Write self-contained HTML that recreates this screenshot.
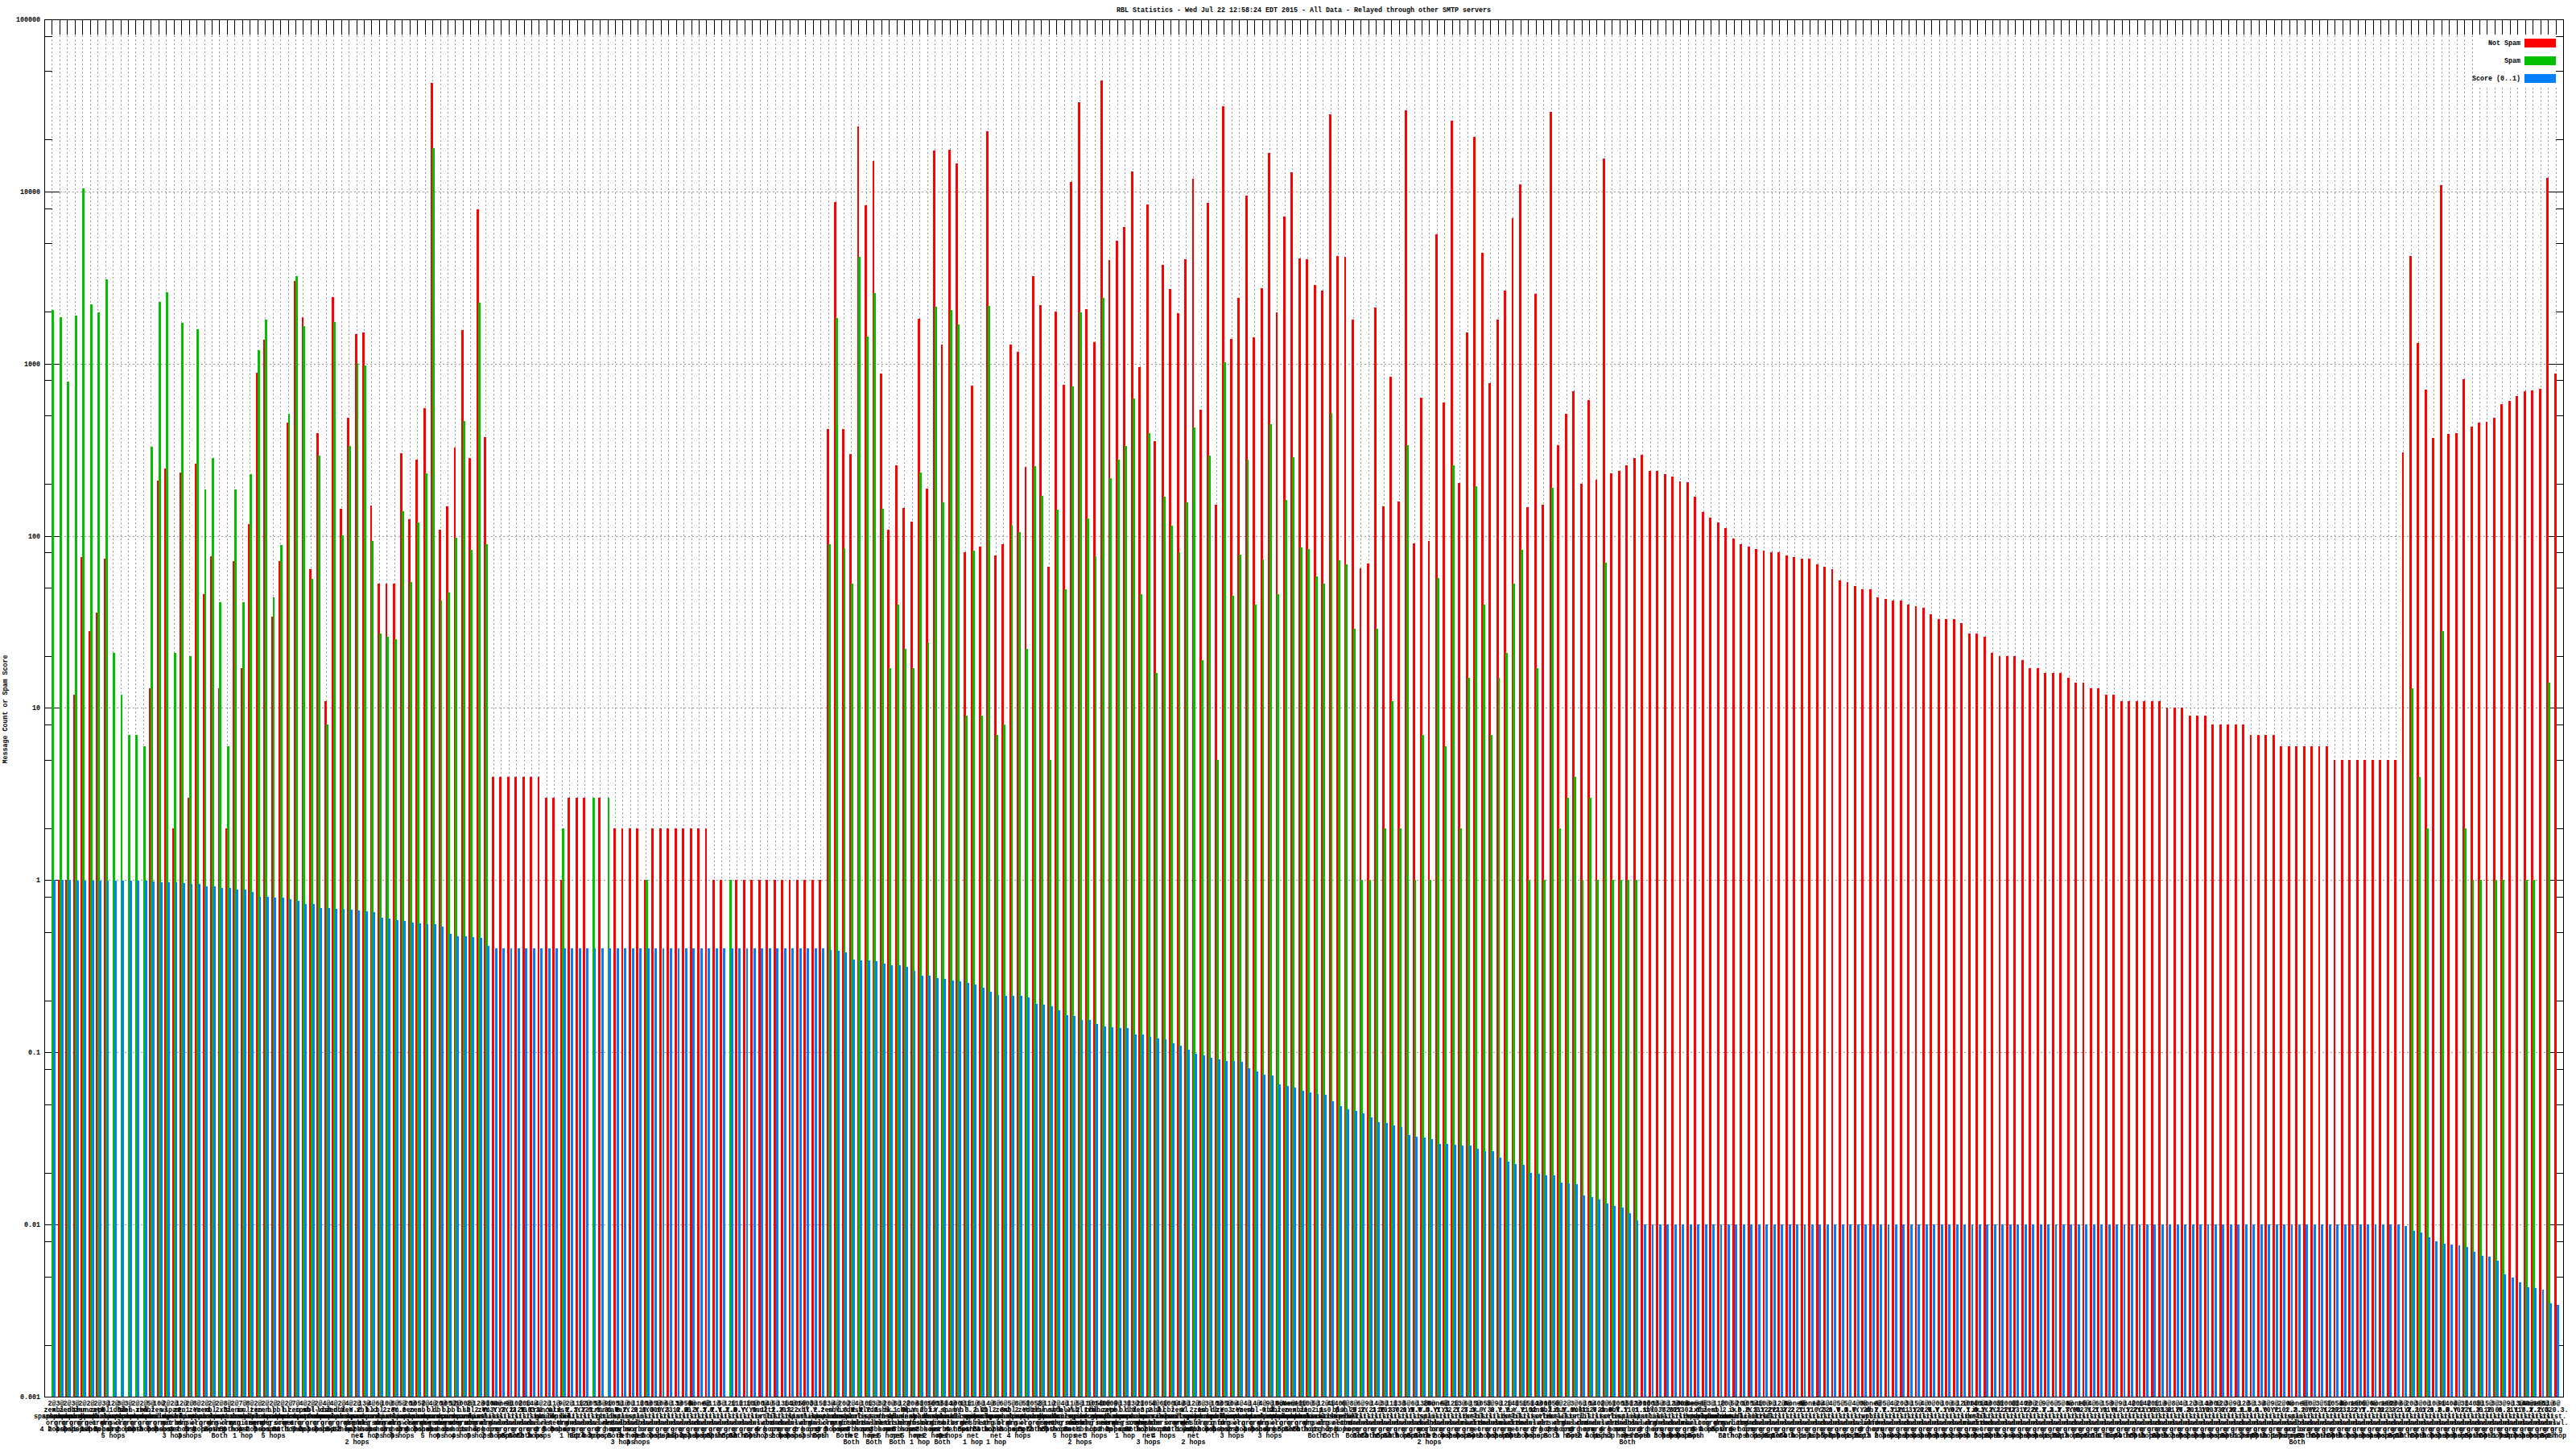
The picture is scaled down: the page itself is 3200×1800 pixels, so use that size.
<!DOCTYPE html><html><head><meta charset="utf-8"><title>RBL Statistics</title>
<style>html,body{margin:0;padding:0;background:#fff}body{width:3200px;height:1800px;overflow:hidden}svg{display:block}text{font-family:"Liberation Mono","DejaVu Sans Mono",monospace;font-size:8.333px;fill:#000}</style></head><body>
<svg width="3200" height="1800" viewBox="0 0 3200 1800" shape-rendering="crispEdges">
<rect width="3200" height="1800" fill="#fff"/>
<path d="M64.5 44V1735M74.5 44V1735M83.5 44V1735M93.5 44V1735M102.5 44V1735M112.5 44V1735M121.5 44V1735M131.5 44V1735M140.5 44V1735M150.5 44V1735M159.5 44V1735M168.5 44V1735M178.5 44V1735M187.5 44V1735M197.5 44V1735M206.5 44V1735M216.5 44V1735M225.5 44V1735M235.5 44V1735M244.5 44V1735M254.5 44V1735M263.5 44V1735M272.5 44V1735M282.5 44V1735M291.5 44V1735M301.5 44V1735M310.5 44V1735M320.5 44V1735M329.5 44V1735M339.5 44V1735M348.5 44V1735M358.5 44V1735M367.5 44V1735M376.5 44V1735M386.5 44V1735M395.5 44V1735M405.5 44V1735M414.5 44V1735M424.5 44V1735M433.5 44V1735M443.5 44V1735M452.5 44V1735M461.5 44V1735M471.5 44V1735M480.5 44V1735M490.5 44V1735M499.5 44V1735M509.5 44V1735M518.5 44V1735M528.5 44V1735M537.5 44V1735M547.5 44V1735M556.5 44V1735M565.5 44V1735M575.5 44V1735M584.5 44V1735M594.5 44V1735M603.5 44V1735M613.5 44V1735M622.5 44V1735M632.5 44V1735M641.5 44V1735M651.5 44V1735M660.5 44V1735M669.5 44V1735M679.5 44V1735M688.5 44V1735M698.5 44V1735M707.5 44V1735M717.5 44V1735M726.5 44V1735M736.5 44V1735M745.5 44V1735M755.5 44V1735M764.5 44V1735M773.5 44V1735M783.5 44V1735M792.5 44V1735M802.5 44V1735M811.5 44V1735M821.5 44V1735M830.5 44V1735M840.5 44V1735M849.5 44V1735M859.5 44V1735M868.5 44V1735M877.5 44V1735M887.5 44V1735M896.5 44V1735M906.5 44V1735M915.5 44V1735M925.5 44V1735M934.5 44V1735M944.5 44V1735M953.5 44V1735M963.5 44V1735M972.5 44V1735M981.5 44V1735M991.5 44V1735M1000.5 44V1735M1010.5 44V1735M1019.5 44V1735M1029.5 44V1735M1038.5 44V1735M1048.5 44V1735M1057.5 44V1735M1066.5 44V1735M1076.5 44V1735M1085.5 44V1735M1095.5 44V1735M1104.5 44V1735M1114.5 44V1735M1123.5 44V1735M1133.5 44V1735M1142.5 44V1735M1152.5 44V1735M1161.5 44V1735M1170.5 44V1735M1180.5 44V1735M1189.5 44V1735M1199.5 44V1735M1208.5 44V1735M1218.5 44V1735M1227.5 44V1735M1237.5 44V1735M1246.5 44V1735M1256.5 44V1735M1265.5 44V1735M1274.5 44V1735M1284.5 44V1735M1293.5 44V1735M1303.5 44V1735M1312.5 44V1735M1322.5 44V1735M1331.5 44V1735M1341.5 44V1735M1350.5 44V1735M1360.5 44V1735M1369.5 44V1735M1378.5 44V1735M1388.5 44V1735M1397.5 44V1735M1407.5 44V1735M1416.5 44V1735M1426.5 44V1735M1435.5 44V1735M1445.5 44V1735M1454.5 44V1735M1464.5 44V1735M1473.5 44V1735M1482.5 44V1735M1492.5 44V1735M1501.5 44V1735M1511.5 44V1735M1520.5 44V1735M1530.5 44V1735M1539.5 44V1735M1549.5 44V1735M1558.5 44V1735M1568.5 44V1735M1577.5 44V1735M1586.5 44V1735M1596.5 44V1735M1605.5 44V1735M1615.5 44V1735M1624.5 44V1735M1634.5 44V1735M1643.5 44V1735M1653.5 44V1735M1662.5 44V1735M1671.5 44V1735M1681.5 44V1735M1690.5 44V1735M1700.5 44V1735M1709.5 44V1735M1719.5 44V1735M1728.5 44V1735M1738.5 44V1735M1747.5 44V1735M1757.5 44V1735M1766.5 44V1735M1775.5 44V1735M1785.5 44V1735M1794.5 44V1735M1804.5 44V1735M1813.5 44V1735M1823.5 44V1735M1832.5 44V1735M1842.5 44V1735M1851.5 44V1735M1861.5 44V1735M1870.5 44V1735M1879.5 44V1735M1889.5 44V1735M1898.5 44V1735M1908.5 44V1735M1917.5 44V1735M1927.5 44V1735M1936.5 44V1735M1946.5 44V1735M1955.5 44V1735M1965.5 44V1735M1974.5 44V1735M1983.5 44V1735M1993.5 44V1735M2002.5 44V1735M2012.5 44V1735M2021.5 44V1735M2031.5 44V1735M2040.5 44V1735M2050.5 44V1735M2059.5 44V1735M2069.5 44V1735M2078.5 44V1735M2087.5 44V1735M2097.5 44V1735M2106.5 44V1735M2116.5 44V1735M2125.5 44V1735M2135.5 44V1735M2144.5 44V1735M2154.5 44V1735M2163.5 44V1735M2173.5 44V1735M2182.5 44V1735M2191.5 44V1735M2201.5 44V1735M2210.5 44V1735M2220.5 44V1735M2229.5 44V1735M2239.5 44V1735M2248.5 44V1735M2258.5 44V1735M2267.5 44V1735M2276.5 44V1735M2286.5 44V1735M2295.5 44V1735M2305.5 44V1735M2314.5 44V1735M2324.5 44V1735M2333.5 44V1735M2343.5 44V1735M2352.5 44V1735M2362.5 44V1735M2371.5 44V1735M2380.5 44V1735M2390.5 44V1735M2399.5 44V1735M2409.5 44V1735M2418.5 44V1735M2428.5 44V1735M2437.5 44V1735M2447.5 44V1735M2456.5 44V1735M2466.5 44V1735M2475.5 44V1735M2484.5 44V1735M2494.5 44V1735M2503.5 44V1735M2513.5 44V1735M2522.5 44V1735M2532.5 44V1735M2541.5 44V1735M2551.5 44V1735M2560.5 44V1735M2570.5 44V1735M2579.5 44V1735M2588.5 44V1735M2598.5 44V1735M2607.5 44V1735M2617.5 44V1735M2626.5 44V1735M2636.5 44V1735M2645.5 44V1735M2655.5 44V1735M2664.5 44V1735M2674.5 44V1735M2683.5 44V1735M2692.5 44V1735M2702.5 44V1735M2711.5 44V1735M2721.5 44V1735M2730.5 44V1735M2740.5 44V1735M2749.5 44V1735M2759.5 44V1735M2768.5 44V1735M2778.5 44V1735M2787.5 44V1735M2796.5 44V1735M2806.5 44V1735M2815.5 44V1735M2825.5 44V1735M2834.5 44V1735M2844.5 44V1735M2853.5 44V1735M2863.5 44V1735M2872.5 44V1735M2881.5 44V1735M2891.5 44V1735M2900.5 44V1735M2910.5 44V1735M2919.5 44V1735M2929.5 44V1735M2938.5 44V1735M2948.5 44V1735M2957.5 44V1735M2967.5 44V1735M2976.5 44V1735M2985.5 44V1735M2995.5 44V1735M3004.5 44V1735M3014.5 44V1735M3023.5 44V1735M3033.5 44V1735M3042.5 44V1735M3052.5 44V1735M3061.5 44V1735M3071.5 44V1735M3080.5 44V1735M3089.5 44V1735M3099.5 44V1735M3108.5 44V1735M3118.5 44V1735M3127.5 44V1735M3137.5 44V1735M3146.5 44V1735M3156.5 44V1735M3165.5 44V1735M3175.5 44V1735" stroke="#999" stroke-width="1" stroke-dasharray="2 3" fill="none"/>
<path d="M75 1521.5H3166M75 1307.5H3166M75 1093.5H3166M75 879.5H3166M75 666.5H3166M75 452.5H3166M75 238.5H3166" stroke="#999" stroke-width="1" stroke-dasharray="2 3" fill="none"/>
<rect x="3075" y="43" width="109" height="64" fill="#fff"/>
<path d="M64.5 24V43M64.5 1717V1735M74.5 24V43M74.5 1717V1735M83.5 24V43M83.5 1717V1735M93.5 24V43M93.5 1717V1735M102.5 24V43M102.5 1717V1735M112.5 24V43M112.5 1717V1735M121.5 24V43M121.5 1717V1735M131.5 24V43M131.5 1717V1735M140.5 24V43M140.5 1717V1735M150.5 24V43M150.5 1717V1735M159.5 24V43M159.5 1717V1735M168.5 24V43M168.5 1717V1735M178.5 24V43M178.5 1717V1735M187.5 24V43M187.5 1717V1735M197.5 24V43M197.5 1717V1735M206.5 24V43M206.5 1717V1735M216.5 24V43M216.5 1717V1735M225.5 24V43M225.5 1717V1735M235.5 24V43M235.5 1717V1735M244.5 24V43M244.5 1717V1735M254.5 24V43M254.5 1717V1735M263.5 24V43M263.5 1717V1735M272.5 24V43M272.5 1717V1735M282.5 24V43M282.5 1717V1735M291.5 24V43M291.5 1717V1735M301.5 24V43M301.5 1717V1735M310.5 24V43M310.5 1717V1735M320.5 24V43M320.5 1717V1735M329.5 24V43M329.5 1717V1735M339.5 24V43M339.5 1717V1735M348.5 24V43M348.5 1717V1735M358.5 24V43M358.5 1717V1735M367.5 24V43M367.5 1717V1735M376.5 24V43M376.5 1717V1735M386.5 24V43M386.5 1717V1735M395.5 24V43M395.5 1717V1735M405.5 24V43M405.5 1717V1735M414.5 24V43M414.5 1717V1735M424.5 24V43M424.5 1717V1735M433.5 24V43M433.5 1717V1735M443.5 24V43M443.5 1717V1735M452.5 24V43M452.5 1717V1735M461.5 24V43M461.5 1717V1735M471.5 24V43M471.5 1717V1735M480.5 24V43M480.5 1717V1735M490.5 24V43M490.5 1717V1735M499.5 24V43M499.5 1717V1735M509.5 24V43M509.5 1717V1735M518.5 24V43M518.5 1717V1735M528.5 24V43M528.5 1717V1735M537.5 24V43M537.5 1717V1735M547.5 24V43M547.5 1717V1735M556.5 24V43M556.5 1717V1735M565.5 24V43M565.5 1717V1735M575.5 24V43M575.5 1717V1735M584.5 24V43M584.5 1717V1735M594.5 24V43M594.5 1717V1735M603.5 24V43M603.5 1717V1735M613.5 24V43M613.5 1717V1735M622.5 24V43M622.5 1717V1735M632.5 24V43M632.5 1717V1735M641.5 24V43M641.5 1717V1735M651.5 24V43M651.5 1717V1735M660.5 24V43M660.5 1717V1735M669.5 24V43M669.5 1717V1735M679.5 24V43M679.5 1717V1735M688.5 24V43M688.5 1717V1735M698.5 24V43M698.5 1717V1735M707.5 24V43M707.5 1717V1735M717.5 24V43M717.5 1717V1735M726.5 24V43M726.5 1717V1735M736.5 24V43M736.5 1717V1735M745.5 24V43M745.5 1717V1735M755.5 24V43M755.5 1717V1735M764.5 24V43M764.5 1717V1735M773.5 24V43M773.5 1717V1735M783.5 24V43M783.5 1717V1735M792.5 24V43M792.5 1717V1735M802.5 24V43M802.5 1717V1735M811.5 24V43M811.5 1717V1735M821.5 24V43M821.5 1717V1735M830.5 24V43M830.5 1717V1735M840.5 24V43M840.5 1717V1735M849.5 24V43M849.5 1717V1735M859.5 24V43M859.5 1717V1735M868.5 24V43M868.5 1717V1735M877.5 24V43M877.5 1717V1735M887.5 24V43M887.5 1717V1735M896.5 24V43M896.5 1717V1735M906.5 24V43M906.5 1717V1735M915.5 24V43M915.5 1717V1735M925.5 24V43M925.5 1717V1735M934.5 24V43M934.5 1717V1735M944.5 24V43M944.5 1717V1735M953.5 24V43M953.5 1717V1735M963.5 24V43M963.5 1717V1735M972.5 24V43M972.5 1717V1735M981.5 24V43M981.5 1717V1735M991.5 24V43M991.5 1717V1735M1000.5 24V43M1000.5 1717V1735M1010.5 24V43M1010.5 1717V1735M1019.5 24V43M1019.5 1717V1735M1029.5 24V43M1029.5 1717V1735M1038.5 24V43M1038.5 1717V1735M1048.5 24V43M1048.5 1717V1735M1057.5 24V43M1057.5 1717V1735M1066.5 24V43M1066.5 1717V1735M1076.5 24V43M1076.5 1717V1735M1085.5 24V43M1085.5 1717V1735M1095.5 24V43M1095.5 1717V1735M1104.5 24V43M1104.5 1717V1735M1114.5 24V43M1114.5 1717V1735M1123.5 24V43M1123.5 1717V1735M1133.5 24V43M1133.5 1717V1735M1142.5 24V43M1142.5 1717V1735M1152.5 24V43M1152.5 1717V1735M1161.5 24V43M1161.5 1717V1735M1170.5 24V43M1170.5 1717V1735M1180.5 24V43M1180.5 1717V1735M1189.5 24V43M1189.5 1717V1735M1199.5 24V43M1199.5 1717V1735M1208.5 24V43M1208.5 1717V1735M1218.5 24V43M1218.5 1717V1735M1227.5 24V43M1227.5 1717V1735M1237.5 24V43M1237.5 1717V1735M1246.5 24V43M1246.5 1717V1735M1256.5 24V43M1256.5 1717V1735M1265.5 24V43M1265.5 1717V1735M1274.5 24V43M1274.5 1717V1735M1284.5 24V43M1284.5 1717V1735M1293.5 24V43M1293.5 1717V1735M1303.5 24V43M1303.5 1717V1735M1312.5 24V43M1312.5 1717V1735M1322.5 24V43M1322.5 1717V1735M1331.5 24V43M1331.5 1717V1735M1341.5 24V43M1341.5 1717V1735M1350.5 24V43M1350.5 1717V1735M1360.5 24V43M1360.5 1717V1735M1369.5 24V43M1369.5 1717V1735M1378.5 24V43M1378.5 1717V1735M1388.5 24V43M1388.5 1717V1735M1397.5 24V43M1397.5 1717V1735M1407.5 24V43M1407.5 1717V1735M1416.5 24V43M1416.5 1717V1735M1426.5 24V43M1426.5 1717V1735M1435.5 24V43M1435.5 1717V1735M1445.5 24V43M1445.5 1717V1735M1454.5 24V43M1454.5 1717V1735M1464.5 24V43M1464.5 1717V1735M1473.5 24V43M1473.5 1717V1735M1482.5 24V43M1482.5 1717V1735M1492.5 24V43M1492.5 1717V1735M1501.5 24V43M1501.5 1717V1735M1511.5 24V43M1511.5 1717V1735M1520.5 24V43M1520.5 1717V1735M1530.5 24V43M1530.5 1717V1735M1539.5 24V43M1539.5 1717V1735M1549.5 24V43M1549.5 1717V1735M1558.5 24V43M1558.5 1717V1735M1568.5 24V43M1568.5 1717V1735M1577.5 24V43M1577.5 1717V1735M1586.5 24V43M1586.5 1717V1735M1596.5 24V43M1596.5 1717V1735M1605.5 24V43M1605.5 1717V1735M1615.5 24V43M1615.5 1717V1735M1624.5 24V43M1624.5 1717V1735M1634.5 24V43M1634.5 1717V1735M1643.5 24V43M1643.5 1717V1735M1653.5 24V43M1653.5 1717V1735M1662.5 24V43M1662.5 1717V1735M1671.5 24V43M1671.5 1717V1735M1681.5 24V43M1681.5 1717V1735M1690.5 24V43M1690.5 1717V1735M1700.5 24V43M1700.5 1717V1735M1709.5 24V43M1709.5 1717V1735M1719.5 24V43M1719.5 1717V1735M1728.5 24V43M1728.5 1717V1735M1738.5 24V43M1738.5 1717V1735M1747.5 24V43M1747.5 1717V1735M1757.5 24V43M1757.5 1717V1735M1766.5 24V43M1766.5 1717V1735M1775.5 24V43M1775.5 1717V1735M1785.5 24V43M1785.5 1717V1735M1794.5 24V43M1794.5 1717V1735M1804.5 24V43M1804.5 1717V1735M1813.5 24V43M1813.5 1717V1735M1823.5 24V43M1823.5 1717V1735M1832.5 24V43M1832.5 1717V1735M1842.5 24V43M1842.5 1717V1735M1851.5 24V43M1851.5 1717V1735M1861.5 24V43M1861.5 1717V1735M1870.5 24V43M1870.5 1717V1735M1879.5 24V43M1879.5 1717V1735M1889.5 24V43M1889.5 1717V1735M1898.5 24V43M1898.5 1717V1735M1908.5 24V43M1908.5 1717V1735M1917.5 24V43M1917.5 1717V1735M1927.5 24V43M1927.5 1717V1735M1936.5 24V43M1936.5 1717V1735M1946.5 24V43M1946.5 1717V1735M1955.5 24V43M1955.5 1717V1735M1965.5 24V43M1965.5 1717V1735M1974.5 24V43M1974.5 1717V1735M1983.5 24V43M1983.5 1717V1735M1993.5 24V43M1993.5 1717V1735M2002.5 24V43M2002.5 1717V1735M2012.5 24V43M2012.5 1717V1735M2021.5 24V43M2021.5 1717V1735M2031.5 24V43M2031.5 1717V1735M2040.5 24V43M2040.5 1717V1735M2050.5 24V43M2050.5 1717V1735M2059.5 24V43M2059.5 1717V1735M2069.5 24V43M2069.5 1717V1735M2078.5 24V43M2078.5 1717V1735M2087.5 24V43M2087.5 1717V1735M2097.5 24V43M2097.5 1717V1735M2106.5 24V43M2106.5 1717V1735M2116.5 24V43M2116.5 1717V1735M2125.5 24V43M2125.5 1717V1735M2135.5 24V43M2135.5 1717V1735M2144.5 24V43M2144.5 1717V1735M2154.5 24V43M2154.5 1717V1735M2163.5 24V43M2163.5 1717V1735M2173.5 24V43M2173.5 1717V1735M2182.5 24V43M2182.5 1717V1735M2191.5 24V43M2191.5 1717V1735M2201.5 24V43M2201.5 1717V1735M2210.5 24V43M2210.5 1717V1735M2220.5 24V43M2220.5 1717V1735M2229.5 24V43M2229.5 1717V1735M2239.5 24V43M2239.5 1717V1735M2248.5 24V43M2248.5 1717V1735M2258.5 24V43M2258.5 1717V1735M2267.5 24V43M2267.5 1717V1735M2276.5 24V43M2276.5 1717V1735M2286.5 24V43M2286.5 1717V1735M2295.5 24V43M2295.5 1717V1735M2305.5 24V43M2305.5 1717V1735M2314.5 24V43M2314.5 1717V1735M2324.5 24V43M2324.5 1717V1735M2333.5 24V43M2333.5 1717V1735M2343.5 24V43M2343.5 1717V1735M2352.5 24V43M2352.5 1717V1735M2362.5 24V43M2362.5 1717V1735M2371.5 24V43M2371.5 1717V1735M2380.5 24V43M2380.5 1717V1735M2390.5 24V43M2390.5 1717V1735M2399.5 24V43M2399.5 1717V1735M2409.5 24V43M2409.5 1717V1735M2418.5 24V43M2418.5 1717V1735M2428.5 24V43M2428.5 1717V1735M2437.5 24V43M2437.5 1717V1735M2447.5 24V43M2447.5 1717V1735M2456.5 24V43M2456.5 1717V1735M2466.5 24V43M2466.5 1717V1735M2475.5 24V43M2475.5 1717V1735M2484.5 24V43M2484.5 1717V1735M2494.5 24V43M2494.5 1717V1735M2503.5 24V43M2503.5 1717V1735M2513.5 24V43M2513.5 1717V1735M2522.5 24V43M2522.5 1717V1735M2532.5 24V43M2532.5 1717V1735M2541.5 24V43M2541.5 1717V1735M2551.5 24V43M2551.5 1717V1735M2560.5 24V43M2560.5 1717V1735M2570.5 24V43M2570.5 1717V1735M2579.5 24V43M2579.5 1717V1735M2588.5 24V43M2588.5 1717V1735M2598.5 24V43M2598.5 1717V1735M2607.5 24V43M2607.5 1717V1735M2617.5 24V43M2617.5 1717V1735M2626.5 24V43M2626.5 1717V1735M2636.5 24V43M2636.5 1717V1735M2645.5 24V43M2645.5 1717V1735M2655.5 24V43M2655.5 1717V1735M2664.5 24V43M2664.5 1717V1735M2674.5 24V43M2674.5 1717V1735M2683.5 24V43M2683.5 1717V1735M2692.5 24V43M2692.5 1717V1735M2702.5 24V43M2702.5 1717V1735M2711.5 24V43M2711.5 1717V1735M2721.5 24V43M2721.5 1717V1735M2730.5 24V43M2730.5 1717V1735M2740.5 24V43M2740.5 1717V1735M2749.5 24V43M2749.5 1717V1735M2759.5 24V43M2759.5 1717V1735M2768.5 24V43M2768.5 1717V1735M2778.5 24V43M2778.5 1717V1735M2787.5 24V43M2787.5 1717V1735M2796.5 24V43M2796.5 1717V1735M2806.5 24V43M2806.5 1717V1735M2815.5 24V43M2815.5 1717V1735M2825.5 24V43M2825.5 1717V1735M2834.5 24V43M2834.5 1717V1735M2844.5 24V43M2844.5 1717V1735M2853.5 24V43M2853.5 1717V1735M2863.5 24V43M2863.5 1717V1735M2872.5 24V43M2872.5 1717V1735M2881.5 24V43M2881.5 1717V1735M2891.5 24V43M2891.5 1717V1735M2900.5 24V43M2900.5 1717V1735M2910.5 24V43M2910.5 1717V1735M2919.5 24V43M2919.5 1717V1735M2929.5 24V43M2929.5 1717V1735M2938.5 24V43M2938.5 1717V1735M2948.5 24V43M2948.5 1717V1735M2957.5 24V43M2957.5 1717V1735M2967.5 24V43M2967.5 1717V1735M2976.5 24V43M2976.5 1717V1735M2985.5 24V43M2985.5 1717V1735M2995.5 24V43M2995.5 1717V1735M3004.5 24V43M3004.5 1717V1735M3014.5 24V43M3014.5 1717V1735M3023.5 24V43M3023.5 1717V1735M3033.5 24V43M3033.5 1717V1735M3042.5 24V43M3042.5 1717V1735M3052.5 24V43M3052.5 1717V1735M3061.5 24V43M3061.5 1717V1735M3071.5 24V43M3071.5 1717V1735M3080.5 24V43M3080.5 1717V1735M3089.5 24V43M3089.5 1717V1735M3099.5 24V43M3099.5 1717V1735M3108.5 24V43M3108.5 1717V1735M3118.5 24V43M3118.5 1717V1735M3127.5 24V43M3127.5 1717V1735M3137.5 24V43M3137.5 1717V1735M3146.5 24V43M3146.5 1717V1735M3156.5 24V43M3156.5 1717V1735M3165.5 24V43M3165.5 1717V1735M3175.5 24V43M3175.5 1717V1735" stroke="#000" stroke-width="1" fill="none"/>
<path d="M55 1735.5H74M3166 1735.5H3185M55 1671.5H65M3175 1671.5H3185M55 1586.5H65M3175 1586.5H3185M55 1542.5H65M3175 1542.5H3185M55 1521.5H74M3166 1521.5H3185M55 1457.5H65M3175 1457.5H3185M55 1372.5H65M3175 1372.5H3185M55 1328.5H65M3175 1328.5H3185M55 1307.5H74M3166 1307.5H3185M55 1243.5H65M3175 1243.5H3185M55 1158.5H65M3175 1158.5H3185M55 1114.5H65M3175 1114.5H3185M55 1093.5H74M3166 1093.5H3185M55 1029.5H65M3175 1029.5H3185M55 944.5H65M3175 944.5H3185M55 900.5H65M3175 900.5H3185M55 879.5H74M3166 879.5H3185M55 815.5H65M3175 815.5H3185M55 730.5H65M3175 730.5H3185M55 686.5H65M3175 686.5H3185M55 666.5H74M3166 666.5H3185M55 601.5H65M3175 601.5H3185M55 516.5H65M3175 516.5H3185M55 472.5H65M3175 472.5H3185M55 452.5H74M3166 452.5H3185M55 387.5H65M3175 387.5H3185M55 302.5H65M3175 302.5H3185M55 259.5H65M3175 259.5H3185M55 238.5H74M3166 238.5H3185M55 173.5H65M3175 173.5H3185M55 88.5H65M3175 88.5H3185M55 45.5H65M3175 45.5H3185M55 24.5H74M3166 24.5H3185" stroke="#000" stroke-width="1" fill="none"/>
<path d="M72 1093h3V1735h-3zM81 1093h3V1735h-3zM91 863h3V1735h-3zM100 692h3V1735h-3zM110 784h3V1735h-3zM119 761h3V1735h-3zM129 694h3V1735h-3zM185 855h3V1735h-3zM195 597h3V1735h-3zM204 582h3V1735h-3zM214 1029h3V1735h-3zM223 587h3V1735h-3zM233 991h3V1735h-3zM242 576h3V1735h-3zM252 738h3V1735h-3zM261 691h3V1735h-3zM271 855h2V1735h-2zM280 1029h3V1735h-3zM289 697h3V1735h-3zM299 830h3V1735h-3zM308 651h3V1735h-3zM318 463h3V1735h-3zM327 422h3V1735h-3zM337 766h3V1735h-3zM346 697h3V1735h-3zM356 525h3V1735h-3zM365 349h3V1735h-3zM375 394h2V1735h-2zM384 707h3V1735h-3zM393 538h3V1735h-3zM403 871h3V1735h-3zM412 369h3V1735h-3zM422 632h3V1735h-3zM431 519h3V1735h-3zM441 415h3V1735h-3zM450 413h3V1735h-3zM460 628h2V1735h-2zM469 725h3V1735h-3zM479 725h2V1735h-2zM488 725h3V1735h-3zM497 563h3V1735h-3zM507 645h3V1735h-3zM516 571h3V1735h-3zM526 507h3V1735h-3zM535 103h3V1735h-3zM545 658h3V1735h-3zM554 629h3V1735h-3zM564 556h2V1735h-2zM573 410h3V1735h-3zM582 569h3V1735h-3zM592 260h3V1735h-3zM601 543h3V1735h-3zM611 965h3V1735h-3zM620 965h3V1735h-3zM630 965h3V1735h-3zM639 965h3V1735h-3zM649 965h3V1735h-3zM658 965h3V1735h-3zM668 965h2V1735h-2zM677 991h3V1735h-3zM686 991h3V1735h-3zM696 1093h3V1735h-3zM705 991h3V1735h-3zM715 991h3V1735h-3zM724 991h3V1735h-3zM743 991h3V1735h-3zM762 1029h3V1735h-3zM772 1029h2V1735h-2zM781 1029h3V1735h-3zM790 1029h3V1735h-3zM800 1093h3V1735h-3zM809 1029h3V1735h-3zM819 1029h3V1735h-3zM828 1029h3V1735h-3zM838 1029h3V1735h-3zM847 1029h3V1735h-3zM857 1029h3V1735h-3zM866 1029h3V1735h-3zM876 1029h2V1735h-2zM885 1093h3V1735h-3zM894 1093h3V1735h-3zM913 1093h3V1735h-3zM923 1093h3V1735h-3zM932 1093h3V1735h-3zM942 1093h3V1735h-3zM951 1093h3V1735h-3zM961 1093h3V1735h-3zM970 1093h3V1735h-3zM980 1093h2V1735h-2zM989 1093h3V1735h-3zM998 1093h3V1735h-3zM1008 1093h3V1735h-3zM1017 1093h3V1735h-3zM1027 533h3V1735h-3zM1036 251h3V1735h-3zM1046 533h3V1735h-3zM1055 564h3V1735h-3zM1065 157h2V1735h-2zM1074 255h3V1735h-3zM1084 200h2V1735h-2zM1093 464h3V1735h-3zM1102 658h3V1735h-3zM1112 578h3V1735h-3zM1121 631h3V1735h-3zM1131 648h3V1735h-3zM1140 396h3V1735h-3zM1150 607h3V1735h-3zM1159 187h3V1735h-3zM1169 428h2V1735h-2zM1178 186h3V1735h-3zM1187 203h3V1735h-3zM1197 686h3V1735h-3zM1206 479h3V1735h-3zM1216 679h3V1735h-3zM1225 163h3V1735h-3zM1235 690h3V1735h-3zM1244 676h3V1735h-3zM1254 428h3V1735h-3zM1263 437h3V1735h-3zM1273 580h2V1735h-2zM1282 343h3V1735h-3zM1291 379h3V1735h-3zM1301 704h3V1735h-3zM1310 387h3V1735h-3zM1320 478h3V1735h-3zM1329 226h3V1735h-3zM1339 127h3V1735h-3zM1348 384h3V1735h-3zM1358 425h3V1735h-3zM1367 100h3V1735h-3zM1377 323h2V1735h-2zM1386 299h3V1735h-3zM1395 282h3V1735h-3zM1405 213h3V1735h-3zM1414 456h3V1735h-3zM1424 254h3V1735h-3zM1433 548h3V1735h-3zM1443 329h3V1735h-3zM1452 359h3V1735h-3zM1462 389h3V1735h-3zM1471 322h3V1735h-3zM1481 222h2V1735h-2zM1490 509h3V1735h-3zM1499 252h3V1735h-3zM1509 627h3V1735h-3zM1518 132h3V1735h-3zM1528 421h3V1735h-3zM1537 370h3V1735h-3zM1547 243h3V1735h-3zM1556 419h3V1735h-3zM1566 358h3V1735h-3zM1575 190h3V1735h-3zM1585 388h2V1735h-2zM1594 269h3V1735h-3zM1603 214h3V1735h-3zM1613 321h3V1735h-3zM1622 322h3V1735h-3zM1632 354h3V1735h-3zM1641 361h3V1735h-3zM1651 142h3V1735h-3zM1660 318h3V1735h-3zM1670 319h2V1735h-2zM1679 397h3V1735h-3zM1689 706h2V1735h-2zM1698 700h3V1735h-3zM1707 382h3V1735h-3zM1717 629h3V1735h-3zM1726 468h3V1735h-3zM1736 623h3V1735h-3zM1745 137h3V1735h-3zM1755 675h3V1735h-3zM1764 494h3V1735h-3zM1774 672h2V1735h-2zM1783 291h3V1735h-3zM1792 500h3V1735h-3zM1802 150h3V1735h-3zM1811 600h3V1735h-3zM1821 413h3V1735h-3zM1830 170h3V1735h-3zM1840 314h3V1735h-3zM1849 476h3V1735h-3zM1859 397h3V1735h-3zM1868 361h3V1735h-3zM1878 271h2V1735h-2zM1887 229h3V1735h-3zM1896 630h3V1735h-3zM1906 365h3V1735h-3zM1915 627h3V1735h-3zM1925 139h3V1735h-3zM1934 553h3V1735h-3zM1944 514h3V1735h-3zM1953 486h3V1735h-3zM1963 601h3V1735h-3zM1972 497h3V1735h-3zM1982 596h2V1735h-2zM1991 197h3V1735h-3zM2000 588h3V1735h-3zM2010 585h3V1735h-3zM2019 578h3V1735h-3zM2029 569h3V1735h-3zM2038 565h3V1735h-3zM2048 585h3V1735h-3zM2057 585h3V1735h-3zM2067 589h3V1735h-3zM2076 592h3V1735h-3zM2086 598h2V1735h-2zM2095 599h3V1735h-3zM2104 617h3V1735h-3zM2114 636h3V1735h-3zM2123 643h3V1735h-3zM2133 649h3V1735h-3zM2142 656h3V1735h-3zM2152 669h3V1735h-3zM2161 676h3V1735h-3zM2171 679h3V1735h-3zM2180 682h3V1735h-3zM2190 684h2V1735h-2zM2199 686h3V1735h-3zM2208 686h3V1735h-3zM2218 690h3V1735h-3zM2227 692h3V1735h-3zM2237 694h3V1735h-3zM2246 694h3V1735h-3zM2256 701h3V1735h-3zM2265 704h3V1735h-3zM2275 707h2V1735h-2zM2284 721h3V1735h-3zM2294 723h2V1735h-2zM2303 728h3V1735h-3zM2312 732h3V1735h-3zM2322 732h3V1735h-3zM2331 742h3V1735h-3zM2341 744h3V1735h-3zM2350 746h3V1735h-3zM2360 746h3V1735h-3zM2369 751h3V1735h-3zM2379 753h2V1735h-2zM2388 755h3V1735h-3zM2397 763h3V1735h-3zM2407 769h3V1735h-3zM2416 769h3V1735h-3zM2426 769h3V1735h-3zM2435 774h3V1735h-3zM2445 787h3V1735h-3zM2454 787h3V1735h-3zM2464 791h3V1735h-3zM2473 811h3V1735h-3zM2483 815h2V1735h-2zM2492 815h3V1735h-3zM2501 815h3V1735h-3zM2511 820h3V1735h-3zM2520 830h3V1735h-3zM2530 830h3V1735h-3zM2539 836h3V1735h-3zM2549 836h3V1735h-3zM2558 836h3V1735h-3zM2568 842h3V1735h-3zM2577 848h3V1735h-3zM2587 848h2V1735h-2zM2596 855h3V1735h-3zM2605 855h3V1735h-3zM2615 863h3V1735h-3zM2624 863h3V1735h-3zM2634 871h3V1735h-3zM2643 871h3V1735h-3zM2653 871h3V1735h-3zM2662 871h3V1735h-3zM2672 871h3V1735h-3zM2681 871h3V1735h-3zM2691 879h2V1735h-2zM2700 879h3V1735h-3zM2709 879h3V1735h-3zM2719 889h3V1735h-3zM2728 889h3V1735h-3zM2738 889h3V1735h-3zM2747 900h3V1735h-3zM2757 900h3V1735h-3zM2766 900h3V1735h-3zM2776 900h3V1735h-3zM2785 900h3V1735h-3zM2795 913h2V1735h-2zM2804 913h3V1735h-3zM2813 913h3V1735h-3zM2823 913h3V1735h-3zM2832 927h3V1735h-3zM2842 927h3V1735h-3zM2851 927h3V1735h-3zM2861 927h3V1735h-3zM2870 927h3V1735h-3zM2880 927h2V1735h-2zM2889 927h3V1735h-3zM2899 944h2V1735h-2zM2908 944h3V1735h-3zM2917 944h3V1735h-3zM2927 944h3V1735h-3zM2936 944h3V1735h-3zM2946 944h3V1735h-3zM2955 944h3V1735h-3zM2965 944h3V1735h-3zM2974 944h3V1735h-3zM2984 562h2V1735h-2zM2993 318h3V1735h-3zM3002 426h3V1735h-3zM3012 484h3V1735h-3zM3021 544h3V1735h-3zM3031 230h3V1735h-3zM3040 539h3V1735h-3zM3050 538h3V1735h-3zM3059 471h3V1735h-3zM3069 530h3V1735h-3zM3078 525h3V1735h-3zM3088 524h2V1735h-2zM3097 519h3V1735h-3zM3106 502h3V1735h-3zM3116 498h3V1735h-3zM3125 492h3V1735h-3zM3135 486h3V1735h-3zM3144 485h3V1735h-3zM3154 483h3V1735h-3zM3163 221h3V1735h-3zM3173 464h3V1735h-3z" fill="#ff0000"/>
<path d="M64 385h3V1735h-3zM74 394h3V1735h-3zM83 474h3V1735h-3zM93 392h3V1735h-3zM102 234h3V1735h-3zM112 378h3V1735h-3zM121 388h3V1735h-3zM131 347h3V1735h-3zM140 811h3V1735h-3zM150 863h2V1735h-2zM159 913h3V1735h-3zM168 913h3V1735h-3zM178 927h3V1735h-3zM187 555h3V1735h-3zM197 375h3V1735h-3zM206 363h3V1735h-3zM216 811h3V1735h-3zM225 401h3V1735h-3zM235 815h3V1735h-3zM244 409h3V1735h-3zM254 608h2V1735h-2zM263 569h3V1735h-3zM272 748h3V1735h-3zM282 927h3V1735h-3zM291 608h3V1735h-3zM301 748h3V1735h-3zM310 589h3V1735h-3zM320 435h3V1735h-3zM329 397h3V1735h-3zM339 742h2V1735h-2zM348 677h3V1735h-3zM358 514h2V1735h-2zM367 343h3V1735h-3zM376 405h3V1735h-3zM386 719h3V1735h-3zM395 566h3V1735h-3zM405 900h3V1735h-3zM414 400h3V1735h-3zM424 665h3V1735h-3zM433 554h3V1735h-3zM443 451h2V1735h-2zM452 454h3V1735h-3zM461 672h3V1735h-3zM471 787h3V1735h-3zM480 791h3V1735h-3zM490 794h3V1735h-3zM499 635h3V1735h-3zM509 723h3V1735h-3zM518 649h3V1735h-3zM528 588h3V1735h-3zM537 184h3V1735h-3zM547 746h2V1735h-2zM556 736h3V1735h-3zM565 668h3V1735h-3zM575 523h3V1735h-3zM584 683h3V1735h-3zM594 376h3V1735h-3zM603 676h3V1735h-3zM698 1029h3V1735h-3zM736 991h3V1735h-3zM755 991h2V1735h-2zM802 1093h3V1735h-3zM906 1093h3V1735h-3zM1029 676h3V1735h-3zM1038 395h3V1735h-3zM1048 681h2V1735h-2zM1057 725h3V1735h-3zM1066 319h3V1735h-3zM1076 418h3V1735h-3zM1085 364h3V1735h-3zM1095 632h3V1735h-3zM1104 830h3V1735h-3zM1114 751h3V1735h-3zM1123 806h3V1735h-3zM1133 830h3V1735h-3zM1142 587h3V1735h-3zM1152 798h2V1735h-2zM1161 381h3V1735h-3zM1170 624h3V1735h-3zM1180 385h3V1735h-3zM1189 403h3V1735h-3zM1199 889h3V1735h-3zM1208 684h3V1735h-3zM1218 889h3V1735h-3zM1227 380h3V1735h-3zM1237 913h3V1735h-3zM1246 900h3V1735h-3zM1256 652h2V1735h-2zM1265 661h3V1735h-3zM1274 806h3V1735h-3zM1284 579h3V1735h-3zM1293 616h3V1735h-3zM1303 944h3V1735h-3zM1312 633h3V1735h-3zM1322 732h3V1735h-3zM1331 480h3V1735h-3zM1341 388h3V1735h-3zM1350 644h3V1735h-3zM1360 691h2V1735h-2zM1369 370h3V1735h-3zM1378 594h3V1735h-3zM1388 571h3V1735h-3zM1397 554h3V1735h-3zM1407 495h3V1735h-3zM1416 738h3V1735h-3zM1426 538h3V1735h-3zM1435 836h3V1735h-3zM1445 617h3V1735h-3zM1454 653h3V1735h-3zM1464 686h2V1735h-2zM1473 624h3V1735h-3zM1482 531h3V1735h-3zM1492 820h3V1735h-3zM1501 566h3V1735h-3zM1511 944h3V1735h-3zM1520 450h3V1735h-3zM1530 740h3V1735h-3zM1539 689h3V1735h-3zM1549 571h2V1735h-2zM1558 751h3V1735h-3zM1568 695h2V1735h-2zM1577 527h3V1735h-3zM1586 738h3V1735h-3zM1596 621h3V1735h-3zM1605 568h3V1735h-3zM1615 680h3V1735h-3zM1624 682h3V1735h-3zM1634 716h3V1735h-3zM1643 725h3V1735h-3zM1653 513h2V1735h-2zM1662 696h3V1735h-3zM1671 701h3V1735h-3zM1681 781h3V1735h-3zM1690 1093h3V1735h-3zM1700 1093h3V1735h-3zM1709 781h3V1735h-3zM1719 1029h3V1735h-3zM1728 871h3V1735h-3zM1738 1029h3V1735h-3zM1747 553h3V1735h-3zM1757 1093h2V1735h-2zM1766 913h3V1735h-3zM1775 1093h3V1735h-3zM1785 718h3V1735h-3zM1794 927h3V1735h-3zM1804 578h3V1735h-3zM1813 1029h3V1735h-3zM1823 842h3V1735h-3zM1832 604h3V1735h-3zM1842 751h3V1735h-3zM1851 913h3V1735h-3zM1861 842h2V1735h-2zM1870 811h3V1735h-3zM1879 725h3V1735h-3zM1889 683h3V1735h-3zM1898 1093h3V1735h-3zM1908 830h3V1735h-3zM1917 1093h3V1735h-3zM1927 606h3V1735h-3zM1936 1029h3V1735h-3zM1946 991h3V1735h-3zM1955 965h3V1735h-3zM1965 1093h2V1735h-2zM1974 991h3V1735h-3zM1983 1093h3V1735h-3zM1993 699h3V1735h-3zM2002 1093h3V1735h-3zM2012 1093h3V1735h-3zM2021 1093h3V1735h-3zM2031 1093h3V1735h-3zM2995 855h3V1735h-3zM3004 965h3V1735h-3zM3014 1029h3V1735h-3zM3033 784h3V1735h-3zM3061 1029h3V1735h-3zM3071 1093h2V1735h-2zM3080 1093h3V1735h-3zM3099 1093h3V1735h-3zM3108 1093h3V1735h-3zM3137 1093h3V1735h-3zM3146 1093h3V1735h-3zM3165 848h3V1735h-3z" fill="#00c000"/>
<path d="M66 1093h3V1735h-3zM76 1093h3V1735h-3zM85 1093h3V1735h-3zM95 1094h3V1735h-3zM104 1094h3V1735h-3zM114 1094h3V1735h-3zM123 1094h3V1735h-3zM133 1094h2V1735h-2zM142 1094h3V1735h-3zM151 1094h3V1735h-3zM161 1094h3V1735h-3zM170 1094h3V1735h-3zM180 1094h3V1735h-3zM189 1095h3V1735h-3zM199 1096h3V1735h-3zM208 1096h3V1735h-3zM218 1096h2V1735h-2zM227 1097h3V1735h-3zM237 1098h2V1735h-2zM246 1098h3V1735h-3zM255 1101h3V1735h-3zM265 1101h3V1735h-3zM274 1103h3V1735h-3zM284 1103h3V1735h-3zM293 1105h3V1735h-3zM303 1105h3V1735h-3zM312 1108h3V1735h-3zM322 1114h2V1735h-2zM331 1114h3V1735h-3zM340 1115h3V1735h-3zM350 1115h3V1735h-3zM359 1117h3V1735h-3zM369 1119h3V1735h-3zM378 1123h3V1735h-3zM388 1123h3V1735h-3zM397 1128h3V1735h-3zM407 1128h3V1735h-3zM416 1129h3V1735h-3zM426 1129h2V1735h-2zM435 1130h3V1735h-3zM444 1131h3V1735h-3zM454 1132h3V1735h-3zM463 1133h3V1735h-3zM473 1140h3V1735h-3zM482 1141h3V1735h-3zM492 1143h3V1735h-3zM501 1144h3V1735h-3zM511 1146h3V1735h-3zM520 1147h3V1735h-3zM530 1148h2V1735h-2zM539 1148h3V1735h-3zM548 1151h3V1735h-3zM558 1160h3V1735h-3zM567 1163h3V1735h-3zM577 1163h3V1735h-3zM586 1164h3V1735h-3zM596 1165h3V1735h-3zM605 1175h3V1735h-3zM615 1178h3V1735h-3zM624 1178h3V1735h-3zM634 1178h2V1735h-2zM643 1178h3V1735h-3zM652 1178h3V1735h-3zM662 1178h3V1735h-3zM671 1178h3V1735h-3zM681 1178h3V1735h-3zM690 1178h3V1735h-3zM700 1178h3V1735h-3zM709 1178h3V1735h-3zM719 1178h3V1735h-3zM728 1178h3V1735h-3zM738 1178h2V1735h-2zM747 1178h3V1735h-3zM756 1178h3V1735h-3zM766 1178h3V1735h-3zM775 1178h3V1735h-3zM785 1178h3V1735h-3zM794 1178h3V1735h-3zM804 1178h3V1735h-3zM813 1178h3V1735h-3zM823 1178h2V1735h-2zM832 1178h3V1735h-3zM842 1178h2V1735h-2zM851 1178h3V1735h-3zM860 1178h3V1735h-3zM870 1178h3V1735h-3zM879 1178h3V1735h-3zM889 1178h3V1735h-3zM898 1178h3V1735h-3zM908 1178h3V1735h-3zM917 1178h3V1735h-3zM927 1178h2V1735h-2zM936 1178h3V1735h-3zM945 1178h3V1735h-3zM955 1178h3V1735h-3zM964 1178h3V1735h-3zM974 1178h3V1735h-3zM983 1178h3V1735h-3zM993 1178h3V1735h-3zM1002 1178h3V1735h-3zM1012 1178h3V1735h-3zM1021 1178h3V1735h-3zM1031 1180h2V1735h-2zM1040 1181h3V1735h-3zM1049 1183h3V1735h-3zM1059 1192h3V1735h-3zM1068 1193h3V1735h-3zM1078 1193h3V1735h-3zM1087 1194h3V1735h-3zM1097 1197h3V1735h-3zM1106 1199h3V1735h-3zM1116 1199h3V1735h-3zM1125 1201h3V1735h-3zM1135 1206h2V1735h-2zM1144 1212h3V1735h-3zM1153 1212h3V1735h-3zM1163 1215h3V1735h-3zM1172 1216h3V1735h-3zM1182 1218h3V1735h-3zM1191 1219h3V1735h-3zM1201 1221h3V1735h-3zM1210 1223h3V1735h-3zM1220 1227h3V1735h-3zM1229 1232h3V1735h-3zM1239 1236h2V1735h-2zM1248 1237h3V1735h-3zM1257 1237h3V1735h-3zM1267 1237h3V1735h-3zM1276 1239h3V1735h-3zM1286 1247h3V1735h-3zM1295 1248h3V1735h-3zM1305 1250h3V1735h-3zM1314 1255h3V1735h-3zM1324 1261h3V1735h-3zM1333 1262h3V1735h-3zM1343 1267h2V1735h-2zM1352 1267h3V1735h-3zM1361 1272h3V1735h-3zM1371 1275h3V1735h-3zM1380 1276h3V1735h-3zM1390 1277h3V1735h-3zM1399 1277h3V1735h-3zM1409 1285h3V1735h-3zM1418 1285h3V1735h-3zM1428 1288h2V1735h-2zM1437 1290h3V1735h-3zM1447 1291h2V1735h-2zM1456 1296h3V1735h-3zM1465 1299h3V1735h-3zM1475 1304h3V1735h-3zM1484 1309h3V1735h-3zM1494 1311h3V1735h-3zM1503 1314h3V1735h-3zM1513 1316h3V1735h-3zM1522 1318h3V1735h-3zM1532 1318h2V1735h-2zM1541 1319h3V1735h-3zM1550 1327h3V1735h-3zM1560 1331h3V1735h-3zM1569 1335h3V1735h-3zM1579 1336h3V1735h-3zM1588 1347h3V1735h-3zM1598 1349h3V1735h-3zM1607 1351h3V1735h-3zM1617 1355h3V1735h-3zM1626 1357h3V1735h-3zM1636 1359h2V1735h-2zM1645 1360h3V1735h-3zM1654 1368h3V1735h-3zM1664 1374h3V1735h-3zM1673 1378h3V1735h-3zM1683 1380h3V1735h-3zM1692 1383h3V1735h-3zM1702 1388h3V1735h-3zM1711 1394h3V1735h-3zM1721 1395h3V1735h-3zM1730 1398h3V1735h-3zM1740 1400h2V1735h-2zM1749 1410h3V1735h-3zM1758 1412h3V1735h-3zM1768 1413h3V1735h-3zM1777 1415h3V1735h-3zM1787 1421h3V1735h-3zM1796 1421h3V1735h-3zM1806 1422h3V1735h-3zM1815 1423h3V1735h-3zM1825 1423h3V1735h-3zM1834 1427h3V1735h-3zM1844 1430h2V1735h-2zM1853 1430h3V1735h-3zM1862 1438h3V1735h-3zM1872 1443h3V1735h-3zM1881 1446h3V1735h-3zM1891 1447h3V1735h-3zM1900 1457h3V1735h-3zM1910 1458h3V1735h-3zM1919 1460h3V1735h-3zM1929 1460h3V1735h-3zM1938 1469h3V1735h-3zM1948 1470h2V1735h-2zM1957 1471h3V1735h-3zM1966 1485h3V1735h-3zM1976 1487h3V1735h-3zM1985 1490h3V1735h-3zM1995 1495h3V1735h-3zM2004 1498h3V1735h-3zM2014 1500h3V1735h-3zM2023 1507h3V1735h-3zM2033 1516h2V1735h-2zM2042 1521h3V1735h-3zM2052 1521h2V1735h-2zM2061 1521h3V1735h-3zM2070 1521h3V1735h-3zM2080 1521h3V1735h-3zM2089 1521h3V1735h-3zM2099 1521h3V1735h-3zM2108 1521h3V1735h-3zM2118 1521h3V1735h-3zM2127 1521h3V1735h-3zM2137 1521h2V1735h-2zM2146 1521h3V1735h-3zM2155 1521h3V1735h-3zM2165 1521h3V1735h-3zM2174 1521h3V1735h-3zM2184 1521h3V1735h-3zM2193 1521h3V1735h-3zM2203 1521h3V1735h-3zM2212 1521h3V1735h-3zM2222 1521h3V1735h-3zM2231 1521h3V1735h-3zM2241 1521h2V1735h-2zM2250 1521h3V1735h-3zM2259 1521h3V1735h-3zM2269 1521h3V1735h-3zM2278 1521h3V1735h-3zM2288 1521h3V1735h-3zM2297 1521h3V1735h-3zM2307 1521h3V1735h-3zM2316 1521h3V1735h-3zM2326 1521h3V1735h-3zM2335 1521h3V1735h-3zM2345 1521h2V1735h-2zM2354 1521h3V1735h-3zM2363 1521h3V1735h-3zM2373 1521h3V1735h-3zM2382 1521h3V1735h-3zM2392 1521h3V1735h-3zM2401 1521h3V1735h-3zM2411 1521h3V1735h-3zM2420 1521h3V1735h-3zM2430 1521h3V1735h-3zM2439 1521h3V1735h-3zM2449 1521h2V1735h-2zM2458 1521h3V1735h-3zM2467 1521h3V1735h-3zM2477 1521h3V1735h-3zM2486 1521h3V1735h-3zM2496 1521h3V1735h-3zM2505 1521h3V1735h-3zM2515 1521h3V1735h-3zM2524 1521h3V1735h-3zM2534 1521h3V1735h-3zM2543 1521h3V1735h-3zM2553 1521h2V1735h-2zM2562 1521h3V1735h-3zM2571 1521h3V1735h-3zM2581 1521h3V1735h-3zM2590 1521h3V1735h-3zM2600 1521h3V1735h-3zM2609 1521h3V1735h-3zM2619 1521h3V1735h-3zM2628 1521h3V1735h-3zM2638 1521h2V1735h-2zM2647 1521h3V1735h-3zM2657 1521h2V1735h-2zM2666 1521h3V1735h-3zM2675 1521h3V1735h-3zM2685 1521h3V1735h-3zM2694 1521h3V1735h-3zM2704 1521h3V1735h-3zM2713 1521h3V1735h-3zM2723 1521h3V1735h-3zM2732 1521h3V1735h-3zM2742 1521h2V1735h-2zM2751 1521h3V1735h-3zM2760 1521h3V1735h-3zM2770 1521h3V1735h-3zM2779 1521h3V1735h-3zM2789 1521h3V1735h-3zM2798 1521h3V1735h-3zM2808 1521h3V1735h-3zM2817 1521h3V1735h-3zM2827 1521h3V1735h-3zM2836 1521h3V1735h-3zM2846 1521h2V1735h-2zM2855 1521h3V1735h-3zM2864 1521h3V1735h-3zM2874 1521h3V1735h-3zM2883 1521h3V1735h-3zM2893 1521h3V1735h-3zM2902 1521h3V1735h-3zM2912 1521h3V1735h-3zM2921 1521h3V1735h-3zM2931 1521h3V1735h-3zM2940 1521h3V1735h-3zM2950 1521h2V1735h-2zM2959 1521h3V1735h-3zM2968 1521h3V1735h-3zM2978 1521h3V1735h-3zM2987 1523h3V1735h-3zM2997 1529h3V1735h-3zM3006 1531h3V1735h-3zM3016 1537h3V1735h-3zM3025 1542h3V1735h-3zM3035 1545h3V1735h-3zM3044 1546h3V1735h-3zM3054 1547h2V1735h-2zM3063 1549h3V1735h-3zM3072 1555h3V1735h-3zM3082 1560h3V1735h-3zM3091 1561h3V1735h-3zM3101 1566h3V1735h-3zM3110 1583h3V1735h-3zM3120 1587h3V1735h-3zM3129 1593h3V1735h-3zM3139 1599h3V1735h-3zM3148 1600h3V1735h-3zM3158 1602h2V1735h-2zM3167 1619h3V1735h-3zM3176 1621h3V1735h-3z" fill="#0080ff"/>
<path d="M55.5 24.5H3184.5V1735.5H55.5z" stroke="#000" stroke-width="1" fill="none"/>
<rect x="3136" y="48" width="39" height="11" fill="#ff0000"/><rect x="3136" y="70" width="39" height="11" fill="#00c000"/><rect x="3136" y="92" width="39" height="11" fill="#0080ff"/>
<g transform="scale(1.00000,1)" shape-rendering="auto" font-weight="bold">
<text x="3131.0" y="56" text-anchor="end">Not Spam</text>
<text x="3131.0" y="78" text-anchor="end">Spam</text>
<text x="3131.0" y="100" text-anchor="end">Score (0..1)</text>
<text x="1619.5" y="15" text-anchor="middle">RBL Statistics - Wed Jul 22 12:58:24 EDT 2015 - All Data - Relayed through other SMTP servers</text>
<text x="50.0" y="1738" text-anchor="end">0.001</text>
<text x="50.0" y="1524" text-anchor="end">0.01</text>
<text x="50.0" y="1310" text-anchor="end">0.1</text>
<text x="50.0" y="1096" text-anchor="end">1</text>
<text x="50.0" y="882" text-anchor="end">10</text>
<text x="50.0" y="669" text-anchor="end">100</text>
<text x="50.0" y="455" text-anchor="end">1000</text>
<text x="50.0" y="241" text-anchor="end">10000</text>
<text x="50.0" y="27" text-anchor="end">100000</text>
</g>
<g transform="translate(9,881) rotate(-90) scale(1.00000,1)" shape-rendering="auto" font-weight="bold"><text x="0" y="0" text-anchor="middle">Message Count or Spam Score</text></g>
<g transform="scale(1.00000,1)" shape-rendering="auto" font-weight="bold" text-anchor="middle">
<text x="64.5" y="1746"><tspan>2@</tspan><tspan x="64.5" dy="8">zen.</tspan><tspan x="64.5" dy="8">spamhaus.</tspan><tspan x="64.5" dy="8">org</tspan><tspan x="64.5" dy="8">4 hops</tspan></text>
<text x="74.5" y="1746"><tspan>3@</tspan><tspan x="74.5" dy="8">xbl.</tspan><tspan x="74.5" dy="8">spamhaus.</tspan><tspan x="74.5" dy="8">org</tspan><tspan x="74.5" dy="8">2 hops</tspan></text>
<text x="83.5" y="1746"><tspan>2@</tspan><tspan x="83.5" dy="8">zen.</tspan><tspan x="83.5" dy="8">spamhaus.</tspan><tspan x="83.5" dy="8">org</tspan><tspan x="83.5" dy="8">4 hops</tspan></text>
<text x="93.5" y="1746"><tspan>3@</tspan><tspan x="93.5" dy="8">dbl.</tspan><tspan x="93.5" dy="8">spamhaus.</tspan><tspan x="93.5" dy="8">org</tspan><tspan x="93.5" dy="8">2 hops</tspan></text>
<text x="102.5" y="1746"><tspan>2@</tspan><tspan x="102.5" dy="8">zen.</tspan><tspan x="102.5" dy="8">spamhaus.</tspan><tspan x="102.5" dy="8">org</tspan><tspan x="102.5" dy="8">1 hop</tspan></text>
<text x="112.5" y="1746"><tspan>2@</tspan><tspan x="112.5" dy="8">truncate.</tspan><tspan x="112.5" dy="8">gbudb.</tspan><tspan x="112.5" dy="8">net</tspan><tspan x="112.5" dy="8">1 hop</tspan></text>
<text x="121.5" y="1746"><tspan>2@</tspan><tspan x="121.5" dy="8">zen.</tspan><tspan x="121.5" dy="8">spamhaus.</tspan><tspan x="121.5" dy="8">org</tspan><tspan x="121.5" dy="8">4 hops</tspan></text>
<text x="131.5" y="1746"><tspan>3@</tspan><tspan x="131.5" dy="8">pbl.</tspan><tspan x="131.5" dy="8">spamhaus.</tspan><tspan x="131.5" dy="8">org</tspan><tspan x="131.5" dy="8">5 hops</tspan></text>
<text x="140.5" y="1746"><tspan>12@</tspan><tspan x="140.5" dy="8">Y.1.0.</tspan><tspan x="140.5" dy="8">list.</tspan><tspan x="140.5" dy="8">dnswl.</tspan><tspan x="140.5" dy="8">org</tspan><tspan x="140.5" dy="8">5 hops</tspan></text>
<text x="150.5" y="1746"><tspan>3@</tspan><tspan x="150.5" dy="8">dbl.</tspan><tspan x="150.5" dy="8">spamhaus.</tspan><tspan x="150.5" dy="8">org</tspan><tspan x="150.5" dy="8">2 hops</tspan></text>
<text x="159.5" y="1746"><tspan>3@</tspan><tspan x="159.5" dy="8">zen.</tspan><tspan x="159.5" dy="8">spamhaus.</tspan><tspan x="159.5" dy="8">org</tspan><tspan x="159.5" dy="8">2 hops</tspan></text>
<text x="168.5" y="1746"><tspan>2@</tspan><tspan x="168.5" dy="8">sbl-xbl.</tspan><tspan x="168.5" dy="8">spamhaus.</tspan><tspan x="168.5" dy="8">org</tspan><tspan x="168.5" dy="8">Both</tspan></text>
<text x="178.5" y="1746"><tspan>2@</tspan><tspan x="178.5" dy="8">zen.</tspan><tspan x="178.5" dy="8">spamhaus.</tspan><tspan x="178.5" dy="8">org</tspan><tspan x="178.5" dy="8">2 hops</tspan></text>
<text x="187.5" y="1746"><tspan>5@</tspan><tspan x="187.5" dy="8">dbl.</tspan><tspan x="187.5" dy="8">spamhaus.</tspan><tspan x="187.5" dy="8">org</tspan><tspan x="187.5" dy="8">3 hops</tspan></text>
<text x="197.5" y="1746"><tspan>10@</tspan><tspan x="197.5" dy="8">zen.</tspan><tspan x="197.5" dy="8">spamhaus.</tspan><tspan x="197.5" dy="8">org</tspan><tspan x="197.5" dy="8">3 hops</tspan></text>
<text x="206.5" y="1746"><tspan>2@</tspan><tspan x="206.5" dy="8">wl.</tspan><tspan x="206.5" dy="8">mailspike.</tspan><tspan x="206.5" dy="8">net</tspan><tspan x="206.5" dy="8">5 hops</tspan></text>
<text x="216.5" y="1746"><tspan>2@</tspan><tspan x="216.5" dy="8">spam.</tspan><tspan x="216.5" dy="8">dnsbl.</tspan><tspan x="216.5" dy="8">sorbs.</tspan><tspan x="216.5" dy="8">net</tspan><tspan x="216.5" dy="8">3 hops</tspan></text>
<text x="225.5" y="1746"><tspan>12@</tspan><tspan x="225.5" dy="8">zen.</tspan><tspan x="225.5" dy="8">spamhaus.</tspan><tspan x="225.5" dy="8">org</tspan><tspan x="225.5" dy="8">3 hops</tspan></text>
<text x="235.5" y="1746"><tspan>2@</tspan><tspan x="235.5" dy="8">2.1.Y.</tspan><tspan x="235.5" dy="8">list.</tspan><tspan x="235.5" dy="8">dnswl.</tspan><tspan x="235.5" dy="8">org</tspan><tspan x="235.5" dy="8">3 hops</tspan></text>
<text x="244.5" y="1746"><tspan>8@</tspan><tspan x="244.5" dy="8">zen.</tspan><tspan x="244.5" dy="8">spamhaus.</tspan><tspan x="244.5" dy="8">org</tspan><tspan x="244.5" dy="8">5 hops</tspan></text>
<text x="254.5" y="1746"><tspan>2@</tspan><tspan x="254.5" dy="8">zen.</tspan><tspan x="254.5" dy="8">spamhaus.</tspan><tspan x="254.5" dy="8">org</tspan><tspan x="254.5" dy="8">2 hops</tspan></text>
<text x="263.5" y="1746"><tspan>2@</tspan><tspan x="263.5" dy="8">xbl.</tspan><tspan x="263.5" dy="8">spamhaus.</tspan><tspan x="263.5" dy="8">org</tspan><tspan x="263.5" dy="8">Both</tspan></text>
<text x="272.5" y="1746"><tspan>2@</tspan><tspan x="272.5" dy="8">1.2.3.</tspan><tspan x="272.5" dy="8">list.</tspan><tspan x="272.5" dy="8">dnswl.</tspan><tspan x="272.5" dy="8">org</tspan><tspan x="272.5" dy="8">Both</tspan></text>
<text x="282.5" y="1746"><tspan>8@</tspan><tspan x="282.5" dy="8">xbl.</tspan><tspan x="282.5" dy="8">spamhaus.</tspan><tspan x="282.5" dy="8">org</tspan><tspan x="282.5" dy="8">Both</tspan></text>
<text x="291.5" y="1746"><tspan>2@</tspan><tspan x="291.5" dy="8">zen.</tspan><tspan x="291.5" dy="8">spamhaus.</tspan><tspan x="291.5" dy="8">org</tspan><tspan x="291.5" dy="8">6 hops</tspan></text>
<text x="301.5" y="1746"><tspan>7@</tspan><tspan x="301.5" dy="8">ix.</tspan><tspan x="301.5" dy="8">dnsbl.</tspan><tspan x="301.5" dy="8">manitu.</tspan><tspan x="301.5" dy="8">net</tspan><tspan x="301.5" dy="8">1 hop</tspan></text>
<text x="310.5" y="1746"><tspan>8@</tspan><tspan x="310.5" dy="8">multi.</tspan><tspan x="310.5" dy="8">surbl.</tspan><tspan x="310.5" dy="8">org</tspan><tspan x="310.5" dy="8">4 hops</tspan></text>
<text x="320.5" y="1746"><tspan>2@</tspan><tspan x="320.5" dy="8">zen.</tspan><tspan x="320.5" dy="8">spamhaus.</tspan><tspan x="320.5" dy="8">org</tspan><tspan x="320.5" dy="8">2 hops</tspan></text>
<text x="329.5" y="1746"><tspan>2@</tspan><tspan x="329.5" dy="8">zen.</tspan><tspan x="329.5" dy="8">spamhaus.</tspan><tspan x="329.5" dy="8">org</tspan><tspan x="329.5" dy="8">5 hops</tspan></text>
<text x="339.5" y="1746"><tspan>2@</tspan><tspan x="339.5" dy="8">bl.</tspan><tspan x="339.5" dy="8">score.</tspan><tspan x="339.5" dy="8">senderscore.</tspan><tspan x="339.5" dy="8">com</tspan><tspan x="339.5" dy="8">5 hops</tspan></text>
<text x="348.5" y="1746"><tspan>2@</tspan><tspan x="348.5" dy="8">pbl.</tspan><tspan x="348.5" dy="8">spamhaus.</tspan><tspan x="348.5" dy="8">org</tspan><tspan x="348.5" dy="8">Both</tspan></text>
<text x="358.5" y="1746"><tspan>2@</tspan><tspan x="358.5" dy="8">bl.</tspan><tspan x="358.5" dy="8">spamcop.</tspan><tspan x="358.5" dy="8">net</tspan><tspan x="358.5" dy="8">2 hops</tspan></text>
<text x="367.5" y="1746"><tspan>7@</tspan><tspan x="367.5" dy="8">zen.</tspan><tspan x="367.5" dy="8">spamhaus.</tspan><tspan x="367.5" dy="8">org</tspan><tspan x="367.5" dy="8">1 hop</tspan></text>
<text x="376.5" y="1746"><tspan>4@</tspan><tspan x="376.5" dy="8">ips.</tspan><tspan x="376.5" dy="8">backscatterer.</tspan><tspan x="376.5" dy="8">org</tspan><tspan x="376.5" dy="8">5 hops</tspan></text>
<text x="386.5" y="1746"><tspan>2@</tspan><tspan x="386.5" dy="8">xbl.</tspan><tspan x="386.5" dy="8">spamhaus.</tspan><tspan x="386.5" dy="8">org</tspan><tspan x="386.5" dy="8">3 hops</tspan></text>
<text x="395.5" y="1746"><tspan>2@</tspan><tspan x="395.5" dy="8">sbl-xbl.</tspan><tspan x="395.5" dy="8">spamhaus.</tspan><tspan x="395.5" dy="8">org</tspan><tspan x="395.5" dy="8">3 hops</tspan></text>
<text x="405.5" y="1746"><tspan>4@</tspan><tspan x="405.5" dy="8">list.</tspan><tspan x="405.5" dy="8">dnswl.</tspan><tspan x="405.5" dy="8">org</tspan><tspan x="405.5" dy="8">2 hops</tspan></text>
<text x="414.5" y="1746"><tspan>4@</tspan><tspan x="414.5" dy="8">zen.</tspan><tspan x="414.5" dy="8">spamhaus.</tspan><tspan x="414.5" dy="8">org</tspan><tspan x="414.5" dy="8">Both</tspan></text>
<text x="424.5" y="1746"><tspan>2@</tspan><tspan x="424.5" dy="8">dbl.</tspan><tspan x="424.5" dy="8">spamhaus.</tspan><tspan x="424.5" dy="8">org</tspan><tspan x="424.5" dy="8">1 hop</tspan></text>
<text x="433.5" y="1746"><tspan>4@</tspan><tspan x="433.5" dy="8">zen.</tspan><tspan x="433.5" dy="8">spamhaus.</tspan><tspan x="433.5" dy="8">org</tspan><tspan x="433.5" dy="8">2 hops</tspan></text>
<text x="443.5" y="1746"><tspan>2@</tspan><tspan x="443.5" dy="8">Y.Y.2.1.</tspan><tspan x="443.5" dy="8">spam.</tspan><tspan x="443.5" dy="8">dnsbl.</tspan><tspan x="443.5" dy="8">sorbs.</tspan><tspan x="443.5" dy="8">net</tspan><tspan x="443.5" dy="8">2 hops</tspan></text>
<text x="452.5" y="1746"><tspan>13@</tspan><tspan x="452.5" dy="8">xbl.</tspan><tspan x="452.5" dy="8">spamhaus.</tspan><tspan x="452.5" dy="8">org</tspan><tspan x="452.5" dy="8">2 hops</tspan></text>
<text x="461.5" y="1746"><tspan>4@</tspan><tspan x="461.5" dy="8">bl.</tspan><tspan x="461.5" dy="8">score.</tspan><tspan x="461.5" dy="8">senderscore.</tspan><tspan x="461.5" dy="8">com</tspan><tspan x="461.5" dy="8">4 hops</tspan></text>
<text x="471.5" y="1746"><tspan>6@</tspan><tspan x="471.5" dy="8">xbl.</tspan><tspan x="471.5" dy="8">spamhaus.</tspan><tspan x="471.5" dy="8">org</tspan><tspan x="471.5" dy="8">6 hops</tspan></text>
<text x="480.5" y="1746"><tspan>10@</tspan><tspan x="480.5" dy="8">1.2.3.</tspan><tspan x="480.5" dy="8">list.</tspan><tspan x="480.5" dy="8">dnswl.</tspan><tspan x="480.5" dy="8">org</tspan><tspan x="480.5" dy="8">2 hops</tspan></text>
<text x="490.5" y="1746"><tspan>8@</tspan><tspan x="490.5" dy="8">zen.</tspan><tspan x="490.5" dy="8">spamhaus.</tspan><tspan x="490.5" dy="8">org</tspan><tspan x="490.5" dy="8">2 hops</tspan></text>
<text x="499.5" y="1746"><tspan>5@</tspan><tspan x="499.5" dy="8">Y.0.</tspan><tspan x="499.5" dy="8">list.</tspan><tspan x="499.5" dy="8">dnswl.</tspan><tspan x="499.5" dy="8">org</tspan><tspan x="499.5" dy="8">5 hops</tspan></text>
<text x="509.5" y="1746"><tspan>20@</tspan><tspan x="509.5" dy="8">zen.</tspan><tspan x="509.5" dy="8">spamhaus.</tspan><tspan x="509.5" dy="8">org</tspan><tspan x="509.5" dy="8">3 hops</tspan></text>
<text x="518.5" y="1746"><tspan>105@</tspan><tspan x="518.5" dy="8">zen.</tspan><tspan x="518.5" dy="8">spamhaus.</tspan><tspan x="518.5" dy="8">org</tspan><tspan x="518.5" dy="8">6 hops</tspan></text>
<text x="528.5" y="1746"><tspan>2@</tspan><tspan x="528.5" dy="8">sbl.</tspan><tspan x="528.5" dy="8">spamhaus.</tspan><tspan x="528.5" dy="8">org</tspan><tspan x="528.5" dy="8">3 hops</tspan></text>
<text x="537.5" y="1746"><tspan>4@</tspan><tspan x="537.5" dy="8">bl.</tspan><tspan x="537.5" dy="8">score.</tspan><tspan x="537.5" dy="8">senderscore.</tspan><tspan x="537.5" dy="8">com</tspan><tspan x="537.5" dy="8">5 hops</tspan></text>
<text x="547.5" y="1746"><tspan>20@</tspan><tspan x="547.5" dy="8">dbl.</tspan><tspan x="547.5" dy="8">spamhaus.</tspan><tspan x="547.5" dy="8">org</tspan><tspan x="547.5" dy="8">6 hops</tspan></text>
<text x="556.5" y="1746"><tspan>105@</tspan><tspan x="556.5" dy="8">bl.</tspan><tspan x="556.5" dy="8">score.</tspan><tspan x="556.5" dy="8">senderscore.</tspan><tspan x="556.5" dy="8">com</tspan><tspan x="556.5" dy="8">6 hops</tspan></text>
<text x="565.5" y="1746"><tspan>12@</tspan><tspan x="565.5" dy="8">pbl.</tspan><tspan x="565.5" dy="8">spamhaus.</tspan><tspan x="565.5" dy="8">org</tspan><tspan x="565.5" dy="8">4 hops</tspan></text>
<text x="575.5" y="1746"><tspan>100@</tspan><tspan x="575.5" dy="8">bl.</tspan><tspan x="575.5" dy="8">score.</tspan><tspan x="575.5" dy="8">senderscore.</tspan><tspan x="575.5" dy="8">com</tspan><tspan x="575.5" dy="8">4 hops</tspan></text>
<text x="584.5" y="1746"><tspan>2@</tspan><tspan x="584.5" dy="8">sbl.</tspan><tspan x="584.5" dy="8">spamhaus.</tspan><tspan x="584.5" dy="8">org</tspan><tspan x="584.5" dy="8">1 hop</tspan></text>
<text x="594.5" y="1746"><tspan>12@</tspan><tspan x="594.5" dy="8">2.2.Y.</tspan><tspan x="594.5" dy="8">list.</tspan><tspan x="594.5" dy="8">dnswl.</tspan><tspan x="594.5" dy="8">org</tspan><tspan x="594.5" dy="8">5 hops</tspan></text>
<text x="603.5" y="1746"><tspan>9@</tspan><tspan x="603.5" dy="8">zen.</tspan><tspan x="603.5" dy="8">spamhaus.</tspan><tspan x="603.5" dy="8">org</tspan><tspan x="603.5" dy="8">6 hops</tspan></text>
<text x="613.5" y="1746"><tspan>100@</tspan><tspan x="613.5" dy="8">Y.3.Y.</tspan><tspan x="613.5" dy="8">list.</tspan><tspan x="613.5" dy="8">dnswl.</tspan><tspan x="613.5" dy="8">org</tspan><tspan x="613.5" dy="8">2 hops</tspan></text>
<text x="622.5" y="1746"><tspan>None@</tspan><tspan x="622.5" dy="8">Y.Y.2.1.</tspan><tspan x="622.5" dy="8">list.</tspan><tspan x="622.5" dy="8">dnswl.</tspan><tspan x="622.5" dy="8">org</tspan><tspan x="622.5" dy="8">5 hops</tspan></text>
<text x="632.5" y="1746"><tspan>9@</tspan><tspan x="632.5" dy="8">Y.3.2.2.</tspan><tspan x="632.5" dy="8">list.</tspan><tspan x="632.5" dy="8">dnswl.</tspan><tspan x="632.5" dy="8">org</tspan><tspan x="632.5" dy="8">Both</tspan></text>
<text x="641.5" y="1746"><tspan>10@</tspan><tspan x="641.5" dy="8">Y.3.Y.</tspan><tspan x="641.5" dy="8">list.</tspan><tspan x="641.5" dy="8">dnswl.</tspan><tspan x="641.5" dy="8">org</tspan><tspan x="641.5" dy="8">Both</tspan></text>
<text x="651.5" y="1746"><tspan>20@</tspan><tspan x="651.5" dy="8">2.1.Y.</tspan><tspan x="651.5" dy="8">list.</tspan><tspan x="651.5" dy="8">dnswl.</tspan><tspan x="651.5" dy="8">org</tspan><tspan x="651.5" dy="8">Both</tspan></text>
<text x="660.5" y="1746"><tspan>14@</tspan><tspan x="660.5" dy="8">1.0.3.</tspan><tspan x="660.5" dy="8">list.</tspan><tspan x="660.5" dy="8">dnswl.</tspan><tspan x="660.5" dy="8">org</tspan><tspan x="660.5" dy="8">2 hops</tspan></text>
<text x="669.5" y="1746"><tspan>4@</tspan><tspan x="669.5" dy="8">0.3.2.Y.</tspan><tspan x="669.5" dy="8">list.</tspan><tspan x="669.5" dy="8">dnswl.</tspan><tspan x="669.5" dy="8">org</tspan><tspan x="669.5" dy="8">3 hops</tspan></text>
<text x="679.5" y="1746"><tspan>2@</tspan><tspan x="679.5" dy="8">truncate.</tspan><tspan x="679.5" dy="8">gbudb.</tspan><tspan x="679.5" dy="8">net</tspan><tspan x="679.5" dy="8">3 hops</tspan></text>
<text x="688.5" y="1746"><tspan>11@</tspan><tspan x="688.5" dy="8">wl.</tspan><tspan x="688.5" dy="8">mailspike.</tspan><tspan x="688.5" dy="8">net</tspan><tspan x="688.5" dy="8">5 hops</tspan></text>
<text x="698.5" y="1746"><tspan>9@</tspan><tspan x="698.5" dy="8">list.</tspan><tspan x="698.5" dy="8">dnswl.</tspan><tspan x="698.5" dy="8">org</tspan><tspan x="698.5" dy="8">3 hops</tspan></text>
<text x="707.5" y="1746"><tspan>2@</tspan><tspan x="707.5" dy="8">1.2.1.</tspan><tspan x="707.5" dy="8">list.</tspan><tspan x="707.5" dy="8">dnswl.</tspan><tspan x="707.5" dy="8">org</tspan><tspan x="707.5" dy="8">1 hop</tspan></text>
<text x="717.5" y="1746"><tspan>11@</tspan><tspan x="717.5" dy="8">Y.3.Y.</tspan><tspan x="717.5" dy="8">list.</tspan><tspan x="717.5" dy="8">dnswl.</tspan><tspan x="717.5" dy="8">org</tspan><tspan x="717.5" dy="8">Both</tspan></text>
<text x="726.5" y="1746"><tspan>12@</tspan><tspan x="726.5" dy="8">Y.2.</tspan><tspan x="726.5" dy="8">list.</tspan><tspan x="726.5" dy="8">dnswl.</tspan><tspan x="726.5" dy="8">org</tspan><tspan x="726.5" dy="8">1 hop</tspan></text>
<text x="736.5" y="1746"><tspan>105@</tspan><tspan x="736.5" dy="8">2.1.Y.</tspan><tspan x="736.5" dy="8">list.</tspan><tspan x="736.5" dy="8">dnswl.</tspan><tspan x="736.5" dy="8">org</tspan><tspan x="736.5" dy="8">4 hops</tspan></text>
<text x="745.5" y="1746"><tspan>15@</tspan><tspan x="745.5" dy="8">0.0.3.</tspan><tspan x="745.5" dy="8">list.</tspan><tspan x="745.5" dy="8">dnswl.</tspan><tspan x="745.5" dy="8">org</tspan><tspan x="745.5" dy="8">3 hops</tspan></text>
<text x="755.5" y="1746"><tspan>9@</tspan><tspan x="755.5" dy="8">truncate.</tspan><tspan x="755.5" dy="8">gbudb.</tspan><tspan x="755.5" dy="8">net</tspan><tspan x="755.5" dy="8">2 hops</tspan></text>
<text x="764.5" y="1746"><tspan>105@</tspan><tspan x="764.5" dy="8">0.2.</tspan><tspan x="764.5" dy="8">list.</tspan><tspan x="764.5" dy="8">dnswl.</tspan><tspan x="764.5" dy="8">org</tspan><tspan x="764.5" dy="8">Both</tspan></text>
<text x="773.5" y="1746"><tspan>11@</tspan><tspan x="773.5" dy="8">0.2.</tspan><tspan x="773.5" dy="8">spam.</tspan><tspan x="773.5" dy="8">dnsbl.</tspan><tspan x="773.5" dy="8">sorbs.</tspan><tspan x="773.5" dy="8">net</tspan><tspan x="773.5" dy="8">3 hops</tspan></text>
<text x="783.5" y="1746"><tspan>0@</tspan><tspan x="783.5" dy="8">Y.Y.2.1.</tspan><tspan x="783.5" dy="8">list.</tspan><tspan x="783.5" dy="8">dnswl.</tspan><tspan x="783.5" dy="8">org</tspan><tspan x="783.5" dy="8">3 hops</tspan></text>
<text x="792.5" y="1746"><tspan>11@</tspan><tspan x="792.5" dy="8">Y.2.1.</tspan><tspan x="792.5" dy="8">spam.</tspan><tspan x="792.5" dy="8">dnsbl.</tspan><tspan x="792.5" dy="8">sorbs.</tspan><tspan x="792.5" dy="8">net</tspan><tspan x="792.5" dy="8">3 hops</tspan></text>
<text x="802.5" y="1746"><tspan>10@</tspan><tspan x="802.5" dy="8">0.0.3.</tspan><tspan x="802.5" dy="8">list.</tspan><tspan x="802.5" dy="8">dnswl.</tspan><tspan x="802.5" dy="8">org</tspan><tspan x="802.5" dy="8">3 hops</tspan></text>
<text x="811.5" y="1746"><tspan>105@</tspan><tspan x="811.5" dy="8">Y.0.</tspan><tspan x="811.5" dy="8">list.</tspan><tspan x="811.5" dy="8">dnswl.</tspan><tspan x="811.5" dy="8">org</tspan><tspan x="811.5" dy="8">3 hops</tspan></text>
<text x="821.5" y="1746"><tspan>10@</tspan><tspan x="821.5" dy="8">0.0.3.</tspan><tspan x="821.5" dy="8">list.</tspan><tspan x="821.5" dy="8">dnswl.</tspan><tspan x="821.5" dy="8">org</tspan><tspan x="821.5" dy="8">3 hops</tspan></text>
<text x="830.5" y="1746"><tspan>6@</tspan><tspan x="830.5" dy="8">1.2.1.</tspan><tspan x="830.5" dy="8">list.</tspan><tspan x="830.5" dy="8">dnswl.</tspan><tspan x="830.5" dy="8">org</tspan><tspan x="830.5" dy="8">1 hop</tspan></text>
<text x="840.5" y="1746"><tspan>13@</tspan><tspan x="840.5" dy="8">Y.3.2.2.</tspan><tspan x="840.5" dy="8">list.</tspan><tspan x="840.5" dy="8">dnswl.</tspan><tspan x="840.5" dy="8">org</tspan><tspan x="840.5" dy="8">1 hop</tspan></text>
<text x="849.5" y="1746"><tspan>105@</tspan><tspan x="849.5" dy="8">0.2.</tspan><tspan x="849.5" dy="8">list.</tspan><tspan x="849.5" dy="8">dnswl.</tspan><tspan x="849.5" dy="8">org</tspan><tspan x="849.5" dy="8">5 hops</tspan></text>
<text x="859.5" y="1746"><tspan>6@</tspan><tspan x="859.5" dy="8">0.2.</tspan><tspan x="859.5" dy="8">list.</tspan><tspan x="859.5" dy="8">dnswl.</tspan><tspan x="859.5" dy="8">org</tspan><tspan x="859.5" dy="8">2 hops</tspan></text>
<text x="868.5" y="1746"><tspan>None@</tspan><tspan x="868.5" dy="8">0.Y.Y.</tspan><tspan x="868.5" dy="8">list.</tspan><tspan x="868.5" dy="8">dnswl.</tspan><tspan x="868.5" dy="8">org</tspan><tspan x="868.5" dy="8">3 hops</tspan></text>
<text x="877.5" y="1746"><tspan>6@</tspan><tspan x="877.5" dy="8">Y.3.Y.</tspan><tspan x="877.5" dy="8">list.</tspan><tspan x="877.5" dy="8">dnswl.</tspan><tspan x="877.5" dy="8">org</tspan><tspan x="877.5" dy="8">3 hops</tspan></text>
<text x="887.5" y="1746"><tspan>11@</tspan><tspan x="887.5" dy="8">1.2.1.</tspan><tspan x="887.5" dy="8">list.</tspan><tspan x="887.5" dy="8">dnswl.</tspan><tspan x="887.5" dy="8">org</tspan><tspan x="887.5" dy="8">Both</tspan></text>
<text x="896.5" y="1746"><tspan>5@</tspan><tspan x="896.5" dy="8">0.Y.Y.</tspan><tspan x="896.5" dy="8">list.</tspan><tspan x="896.5" dy="8">dnswl.</tspan><tspan x="896.5" dy="8">org</tspan><tspan x="896.5" dy="8">2 hops</tspan></text>
<text x="906.5" y="1746"><tspan>12@</tspan><tspan x="906.5" dy="8">Y.1.0.</tspan><tspan x="906.5" dy="8">list.</tspan><tspan x="906.5" dy="8">dnswl.</tspan><tspan x="906.5" dy="8">org</tspan><tspan x="906.5" dy="8">Both</tspan></text>
<text x="915.5" y="1746"><tspan>11@</tspan><tspan x="915.5" dy="8">2.2.Y.</tspan><tspan x="915.5" dy="8">list.</tspan><tspan x="915.5" dy="8">dnswl.</tspan><tspan x="915.5" dy="8">org</tspan><tspan x="915.5" dy="8">Both</tspan></text>
<text x="925.5" y="1746"><tspan>11@</tspan><tspan x="925.5" dy="8">0.Y.Y.</tspan><tspan x="925.5" dy="8">list.</tspan><tspan x="925.5" dy="8">dnswl.</tspan><tspan x="925.5" dy="8">org</tspan><tspan x="925.5" dy="8">2 hops</tspan></text>
<text x="934.5" y="1746"><tspan>10@</tspan><tspan x="934.5" dy="8">Y.0.</tspan><tspan x="934.5" dy="8">list.</tspan><tspan x="934.5" dy="8">dnswl.</tspan><tspan x="934.5" dy="8">org</tspan><tspan x="934.5" dy="8">Both</tspan></text>
<text x="944.5" y="1746"><tspan>100@</tspan><tspan x="944.5" dy="8">1.1.</tspan><tspan x="944.5" dy="8">list.</tspan><tspan x="944.5" dy="8">dnswl.</tspan><tspan x="944.5" dy="8">org</tspan><tspan x="944.5" dy="8">3 hops</tspan></text>
<text x="953.5" y="1746"><tspan>14@</tspan><tspan x="953.5" dy="8">multi.</tspan><tspan x="953.5" dy="8">uribl.</tspan><tspan x="953.5" dy="8">com</tspan><tspan x="953.5" dy="8">6 hops</tspan></text>
<text x="963.5" y="1746"><tspan>5@</tspan><tspan x="963.5" dy="8">2.2.Y.</tspan><tspan x="963.5" dy="8">list.</tspan><tspan x="963.5" dy="8">dnswl.</tspan><tspan x="963.5" dy="8">org</tspan><tspan x="963.5" dy="8">2 hops</tspan></text>
<text x="972.5" y="1746"><tspan>13@</tspan><tspan x="972.5" dy="8">1.2.3.</tspan><tspan x="972.5" dy="8">list.</tspan><tspan x="972.5" dy="8">dnswl.</tspan><tspan x="972.5" dy="8">org</tspan><tspan x="972.5" dy="8">2 hops</tspan></text>
<text x="981.5" y="1746"><tspan>14@</tspan><tspan x="981.5" dy="8">0.2.</tspan><tspan x="981.5" dy="8">list.</tspan><tspan x="981.5" dy="8">dnswl.</tspan><tspan x="981.5" dy="8">org</tspan><tspan x="981.5" dy="8">6 hops</tspan></text>
<text x="991.5" y="1746"><tspan>105@</tspan><tspan x="991.5" dy="8">1.2.1.</tspan><tspan x="991.5" dy="8">list.</tspan><tspan x="991.5" dy="8">dnswl.</tspan><tspan x="991.5" dy="8">org</tspan><tspan x="991.5" dy="8">2 hops</tspan></text>
<text x="1000.5" y="1746"><tspan>100@</tspan><tspan x="1000.5" dy="8">xbl.</tspan><tspan x="1000.5" dy="8">spamhaus.</tspan><tspan x="1000.5" dy="8">org</tspan><tspan x="1000.5" dy="8">2 hops</tspan></text>
<text x="1010.5" y="1746"><tspan>3@</tspan><tspan x="1010.5" dy="8">Y.2.</tspan><tspan x="1010.5" dy="8">list.</tspan><tspan x="1010.5" dy="8">dnswl.</tspan><tspan x="1010.5" dy="8">org</tspan><tspan x="1010.5" dy="8">3 hops</tspan></text>
<text x="1019.5" y="1746"><tspan>15@</tspan><tspan x="1019.5" dy="8">Y.2.</tspan><tspan x="1019.5" dy="8">list.</tspan><tspan x="1019.5" dy="8">dnswl.</tspan><tspan x="1019.5" dy="8">org</tspan><tspan x="1019.5" dy="8">Both</tspan></text>
<text x="1029.5" y="1746"><tspan>13@</tspan><tspan x="1029.5" dy="8">zen.</tspan><tspan x="1029.5" dy="8">spamhaus.</tspan><tspan x="1029.5" dy="8">org</tspan><tspan x="1029.5" dy="8">3 hops</tspan></text>
<text x="1038.5" y="1746"><tspan>4@</tspan><tspan x="1038.5" dy="8">sbl.</tspan><tspan x="1038.5" dy="8">spamhaus.</tspan><tspan x="1038.5" dy="8">org</tspan><tspan x="1038.5" dy="8">5 hops</tspan></text>
<text x="1048.5" y="1746"><tspan>20@</tspan><tspan x="1048.5" dy="8">ix.</tspan><tspan x="1048.5" dy="8">dnsbl.</tspan><tspan x="1048.5" dy="8">manitu.</tspan><tspan x="1048.5" dy="8">net</tspan><tspan x="1048.5" dy="8">Both</tspan></text>
<text x="1057.5" y="1746"><tspan>2@</tspan><tspan x="1057.5" dy="8">Y.3.2.2.</tspan><tspan x="1057.5" dy="8">spam.</tspan><tspan x="1057.5" dy="8">dnsbl.</tspan><tspan x="1057.5" dy="8">sorbs.</tspan><tspan x="1057.5" dy="8">net</tspan><tspan x="1057.5" dy="8">Both</tspan></text>
<text x="1066.5" y="1746"><tspan>4@</tspan><tspan x="1066.5" dy="8">dnsbl.</tspan><tspan x="1066.5" dy="8">sorbs.</tspan><tspan x="1066.5" dy="8">net</tspan><tspan x="1066.5" dy="8">5 hops</tspan></text>
<text x="1076.5" y="1746"><tspan>10@</tspan><tspan x="1076.5" dy="8">Y.Y.2.1.</tspan><tspan x="1076.5" dy="8">list.</tspan><tspan x="1076.5" dy="8">dnswl.</tspan><tspan x="1076.5" dy="8">org</tspan><tspan x="1076.5" dy="8">2 hops</tspan></text>
<text x="1085.5" y="1746"><tspan>13@</tspan><tspan x="1085.5" dy="8">Y.2.</tspan><tspan x="1085.5" dy="8">spam.</tspan><tspan x="1085.5" dy="8">dnsbl.</tspan><tspan x="1085.5" dy="8">sorbs.</tspan><tspan x="1085.5" dy="8">net</tspan><tspan x="1085.5" dy="8">Both</tspan></text>
<text x="1095.5" y="1746"><tspan>3@</tspan><tspan x="1095.5" dy="8">dnsbl.</tspan><tspan x="1095.5" dy="8">sorbs.</tspan><tspan x="1095.5" dy="8">net</tspan><tspan x="1095.5" dy="8">3 hops</tspan></text>
<text x="1104.5" y="1746"><tspan>20@</tspan><tspan x="1104.5" dy="8">ix.</tspan><tspan x="1104.5" dy="8">dnsbl.</tspan><tspan x="1104.5" dy="8">manitu.</tspan><tspan x="1104.5" dy="8">net</tspan><tspan x="1104.5" dy="8">5 hops</tspan></text>
<text x="1114.5" y="1746"><tspan>8@</tspan><tspan x="1114.5" dy="8">Y.1.0.</tspan><tspan x="1114.5" dy="8">spam.</tspan><tspan x="1114.5" dy="8">dnsbl.</tspan><tspan x="1114.5" dy="8">sorbs.</tspan><tspan x="1114.5" dy="8">net</tspan><tspan x="1114.5" dy="8">Both</tspan></text>
<text x="1123.5" y="1746"><tspan>12@</tspan><tspan x="1123.5" dy="8">cbl.</tspan><tspan x="1123.5" dy="8">abuseat.</tspan><tspan x="1123.5" dy="8">org</tspan><tspan x="1123.5" dy="8">5 hops</tspan></text>
<text x="1133.5" y="1746"><tspan>20@</tspan><tspan x="1133.5" dy="8">spam.</tspan><tspan x="1133.5" dy="8">dnsbl.</tspan><tspan x="1133.5" dy="8">sorbs.</tspan><tspan x="1133.5" dy="8">net</tspan><tspan x="1133.5" dy="8">5 hops</tspan></text>
<text x="1142.5" y="1746"><tspan>6@</tspan><tspan x="1142.5" dy="8">Y.Y.2.1.</tspan><tspan x="1142.5" dy="8">spam.</tspan><tspan x="1142.5" dy="8">dnsbl.</tspan><tspan x="1142.5" dy="8">sorbs.</tspan><tspan x="1142.5" dy="8">net</tspan><tspan x="1142.5" dy="8">1 hop</tspan></text>
<text x="1152.5" y="1746"><tspan>105@</tspan><tspan x="1152.5" dy="8">dbl.</tspan><tspan x="1152.5" dy="8">spamhaus.</tspan><tspan x="1152.5" dy="8">org</tspan><tspan x="1152.5" dy="8">3 hops</tspan></text>
<text x="1161.5" y="1746"><tspan>100@</tspan><tspan x="1161.5" dy="8">ix.</tspan><tspan x="1161.5" dy="8">dnsbl.</tspan><tspan x="1161.5" dy="8">manitu.</tspan><tspan x="1161.5" dy="8">net</tspan><tspan x="1161.5" dy="8">2 hops</tspan></text>
<text x="1170.5" y="1746"><tspan>15@</tspan><tspan x="1170.5" dy="8">Y.0.</tspan><tspan x="1170.5" dy="8">spam.</tspan><tspan x="1170.5" dy="8">dnsbl.</tspan><tspan x="1170.5" dy="8">sorbs.</tspan><tspan x="1170.5" dy="8">net</tspan><tspan x="1170.5" dy="8">Both</tspan></text>
<text x="1180.5" y="1746"><tspan>14@</tspan><tspan x="1180.5" dy="8">spam.</tspan><tspan x="1180.5" dy="8">dnsbl.</tspan><tspan x="1180.5" dy="8">sorbs.</tspan><tspan x="1180.5" dy="8">net</tspan><tspan x="1180.5" dy="8">3 hops</tspan></text>
<text x="1189.5" y="1746"><tspan>100@</tspan><tspan x="1189.5" dy="8">b.</tspan><tspan x="1189.5" dy="8">barracudacentral.</tspan><tspan x="1189.5" dy="8">org</tspan><tspan x="1189.5" dy="8">6 hops</tspan></text>
<text x="1199.5" y="1746"><tspan>11@</tspan><tspan x="1199.5" dy="8">bl.</tspan><tspan x="1199.5" dy="8">mailspike.</tspan><tspan x="1199.5" dy="8">net</tspan><tspan x="1199.5" dy="8">Both</tspan></text>
<text x="1208.5" y="1746"><tspan>11@</tspan><tspan x="1208.5" dy="8">Y.3.2.2.</tspan><tspan x="1208.5" dy="8">spam.</tspan><tspan x="1208.5" dy="8">dnsbl.</tspan><tspan x="1208.5" dy="8">sorbs.</tspan><tspan x="1208.5" dy="8">net</tspan><tspan x="1208.5" dy="8">1 hop</tspan></text>
<text x="1218.5" y="1746"><tspan>6@</tspan><tspan x="1218.5" dy="8">bl.</tspan><tspan x="1218.5" dy="8">spamcop.</tspan><tspan x="1218.5" dy="8">net</tspan><tspan x="1218.5" dy="8">Both</tspan></text>
<text x="1227.5" y="1746"><tspan>14@</tspan><tspan x="1227.5" dy="8">sbl.</tspan><tspan x="1227.5" dy="8">spamhaus.</tspan><tspan x="1227.5" dy="8">org</tspan><tspan x="1227.5" dy="8">3 hops</tspan></text>
<text x="1237.5" y="1746"><tspan>8@</tspan><tspan x="1237.5" dy="8">1.2.3.</tspan><tspan x="1237.5" dy="8">spam.</tspan><tspan x="1237.5" dy="8">dnsbl.</tspan><tspan x="1237.5" dy="8">sorbs.</tspan><tspan x="1237.5" dy="8">net</tspan><tspan x="1237.5" dy="8">1 hop</tspan></text>
<text x="1246.5" y="1746"><tspan>6@</tspan><tspan x="1246.5" dy="8">zen.</tspan><tspan x="1246.5" dy="8">spamhaus.</tspan><tspan x="1246.5" dy="8">org</tspan><tspan x="1246.5" dy="8">2 hops</tspan></text>
<text x="1256.5" y="1746"><tspan>5@</tspan><tspan x="1256.5" dy="8">xbl.</tspan><tspan x="1256.5" dy="8">spamhaus.</tspan><tspan x="1256.5" dy="8">org</tspan><tspan x="1256.5" dy="8">3 hops</tspan></text>
<text x="1265.5" y="1746"><tspan>8@</tspan><tspan x="1265.5" dy="8">2.2.Y.</tspan><tspan x="1265.5" dy="8">list.</tspan><tspan x="1265.5" dy="8">dnswl.</tspan><tspan x="1265.5" dy="8">org</tspan><tspan x="1265.5" dy="8">4 hops</tspan></text>
<text x="1274.5" y="1746"><tspan>5@</tspan><tspan x="1274.5" dy="8">zen.</tspan><tspan x="1274.5" dy="8">spamhaus.</tspan><tspan x="1274.5" dy="8">org</tspan><tspan x="1274.5" dy="8">Both</tspan></text>
<text x="1284.5" y="1746"><tspan>105@</tspan><tspan x="1284.5" dy="8">dbl.</tspan><tspan x="1284.5" dy="8">spamhaus.</tspan><tspan x="1284.5" dy="8">org</tspan><tspan x="1284.5" dy="8">Both</tspan></text>
<text x="1293.5" y="1746"><tspan>2@</tspan><tspan x="1293.5" dy="8">sbl.</tspan><tspan x="1293.5" dy="8">spamhaus.</tspan><tspan x="1293.5" dy="8">org</tspan><tspan x="1293.5" dy="8">2 hops</tspan></text>
<text x="1303.5" y="1746"><tspan>11@</tspan><tspan x="1303.5" dy="8">truncate.</tspan><tspan x="1303.5" dy="8">gbudb.</tspan><tspan x="1303.5" dy="8">net</tspan><tspan x="1303.5" dy="8">Both</tspan></text>
<text x="1312.5" y="1746"><tspan>2@</tspan><tspan x="1312.5" dy="8">sbl.</tspan><tspan x="1312.5" dy="8">spamhaus.</tspan><tspan x="1312.5" dy="8">org</tspan><tspan x="1312.5" dy="8">5 hops</tspan></text>
<text x="1322.5" y="1746"><tspan>4@</tspan><tspan x="1322.5" dy="8">bl.</tspan><tspan x="1322.5" dy="8">score.</tspan><tspan x="1322.5" dy="8">senderscore.</tspan><tspan x="1322.5" dy="8">com</tspan><tspan x="1322.5" dy="8">5 hops</tspan></text>
<text x="1331.5" y="1746"><tspan>11@</tspan><tspan x="1331.5" dy="8">wl.</tspan><tspan x="1331.5" dy="8">mailspike.</tspan><tspan x="1331.5" dy="8">net</tspan><tspan x="1331.5" dy="8">Both</tspan></text>
<text x="1341.5" y="1746"><tspan>5@</tspan><tspan x="1341.5" dy="8">Y.2.1.</tspan><tspan x="1341.5" dy="8">spam.</tspan><tspan x="1341.5" dy="8">dnsbl.</tspan><tspan x="1341.5" dy="8">sorbs.</tspan><tspan x="1341.5" dy="8">net</tspan><tspan x="1341.5" dy="8">2 hops</tspan></text>
<text x="1350.5" y="1746"><tspan>11@</tspan><tspan x="1350.5" dy="8">sbl-xbl.</tspan><tspan x="1350.5" dy="8">spamhaus.</tspan><tspan x="1350.5" dy="8">org</tspan><tspan x="1350.5" dy="8">1 hop</tspan></text>
<text x="1360.5" y="1746"><tspan>105@</tspan><tspan x="1360.5" dy="8">bl.</tspan><tspan x="1360.5" dy="8">score.</tspan><tspan x="1360.5" dy="8">senderscore.</tspan><tspan x="1360.5" dy="8">com</tspan><tspan x="1360.5" dy="8">3 hops</tspan></text>
<text x="1369.5" y="1746"><tspan>140@</tspan><tspan x="1369.5" dy="8">truncate.</tspan><tspan x="1369.5" dy="8">gbudb.</tspan><tspan x="1369.5" dy="8">net</tspan><tspan x="1369.5" dy="8">1 hop</tspan></text>
<text x="1378.5" y="1746"><tspan>100@</tspan><tspan x="1378.5" dy="8">zen.</tspan><tspan x="1378.5" dy="8">spamhaus.</tspan><tspan x="1378.5" dy="8">org</tspan><tspan x="1378.5" dy="8">2 hops</tspan></text>
<text x="1388.5" y="1746"><tspan>9@</tspan><tspan x="1388.5" dy="8">pbl.</tspan><tspan x="1388.5" dy="8">spamhaus.</tspan><tspan x="1388.5" dy="8">org</tspan><tspan x="1388.5" dy="8">2 hops</tspan></text>
<text x="1397.5" y="1746"><tspan>13@</tspan><tspan x="1397.5" dy="8">bl.</tspan><tspan x="1397.5" dy="8">score.</tspan><tspan x="1397.5" dy="8">senderscore.</tspan><tspan x="1397.5" dy="8">com</tspan><tspan x="1397.5" dy="8">1 hop</tspan></text>
<text x="1407.5" y="1746"><tspan>13@</tspan><tspan x="1407.5" dy="8">dbl.</tspan><tspan x="1407.5" dy="8">spamhaus.</tspan><tspan x="1407.5" dy="8">org</tspan><tspan x="1407.5" dy="8">Both</tspan></text>
<text x="1416.5" y="1746"><tspan>2@</tspan><tspan x="1416.5" dy="8">zen.</tspan><tspan x="1416.5" dy="8">spamhaus.</tspan><tspan x="1416.5" dy="8">org</tspan><tspan x="1416.5" dy="8">2 hops</tspan></text>
<text x="1426.5" y="1746"><tspan>105@</tspan><tspan x="1426.5" dy="8">Y.3.2.2.</tspan><tspan x="1426.5" dy="8">spam.</tspan><tspan x="1426.5" dy="8">dnsbl.</tspan><tspan x="1426.5" dy="8">sorbs.</tspan><tspan x="1426.5" dy="8">net</tspan><tspan x="1426.5" dy="8">3 hops</tspan></text>
<text x="1435.5" y="1746"><tspan>4@</tspan><tspan x="1435.5" dy="8">psbl.</tspan><tspan x="1435.5" dy="8">surriel.</tspan><tspan x="1435.5" dy="8">com</tspan><tspan x="1435.5" dy="8">2 hops</tspan></text>
<text x="1445.5" y="1746"><tspan>6@</tspan><tspan x="1445.5" dy="8">bl.</tspan><tspan x="1445.5" dy="8">score.</tspan><tspan x="1445.5" dy="8">senderscore.</tspan><tspan x="1445.5" dy="8">com</tspan><tspan x="1445.5" dy="8">4 hops</tspan></text>
<text x="1454.5" y="1746"><tspan>100@</tspan><tspan x="1454.5" dy="8">cbl.</tspan><tspan x="1454.5" dy="8">abuseat.</tspan><tspan x="1454.5" dy="8">org</tspan><tspan x="1454.5" dy="8">Both</tspan></text>
<text x="1464.5" y="1746"><tspan>14@</tspan><tspan x="1464.5" dy="8">zen.</tspan><tspan x="1464.5" dy="8">spamhaus.</tspan><tspan x="1464.5" dy="8">org</tspan><tspan x="1464.5" dy="8">2 hops</tspan></text>
<text x="1473.5" y="1746"><tspan>8@</tspan><tspan x="1473.5" dy="8">wl.</tspan><tspan x="1473.5" dy="8">mailspike.</tspan><tspan x="1473.5" dy="8">net</tspan><tspan x="1473.5" dy="8">1 hop</tspan></text>
<text x="1482.5" y="1746"><tspan>12@</tspan><tspan x="1482.5" dy="8">Y.2.1.</tspan><tspan x="1482.5" dy="8">spam.</tspan><tspan x="1482.5" dy="8">dnsbl.</tspan><tspan x="1482.5" dy="8">sorbs.</tspan><tspan x="1482.5" dy="8">net</tspan><tspan x="1482.5" dy="8">2 hops</tspan></text>
<text x="1492.5" y="1746"><tspan>8@</tspan><tspan x="1492.5" dy="8">zen.</tspan><tspan x="1492.5" dy="8">spamhaus.</tspan><tspan x="1492.5" dy="8">org</tspan><tspan x="1492.5" dy="8">5 hops</tspan></text>
<text x="1501.5" y="1746"><tspan>3@</tspan><tspan x="1501.5" dy="8">sbl.</tspan><tspan x="1501.5" dy="8">spamhaus.</tspan><tspan x="1501.5" dy="8">org</tspan><tspan x="1501.5" dy="8">2 hops</tspan></text>
<text x="1511.5" y="1746"><tspan>10@</tspan><tspan x="1511.5" dy="8">db.</tspan><tspan x="1511.5" dy="8">wpbl.</tspan><tspan x="1511.5" dy="8">info</tspan><tspan x="1511.5" dy="8">4 hops</tspan></text>
<text x="1520.5" y="1746"><tspan>105@</tspan><tspan x="1520.5" dy="8">zen.</tspan><tspan x="1520.5" dy="8">spamhaus.</tspan><tspan x="1520.5" dy="8">org</tspan><tspan x="1520.5" dy="8">5 hops</tspan></text>
<text x="1530.5" y="1746"><tspan>10@</tspan><tspan x="1530.5" dy="8">Y.3.Y.</tspan><tspan x="1530.5" dy="8">list.</tspan><tspan x="1530.5" dy="8">dnswl.</tspan><tspan x="1530.5" dy="8">org</tspan><tspan x="1530.5" dy="8">3 hops</tspan></text>
<text x="1539.5" y="1746"><tspan>4@</tspan><tspan x="1539.5" dy="8">zen.</tspan><tspan x="1539.5" dy="8">spamhaus.</tspan><tspan x="1539.5" dy="8">org</tspan><tspan x="1539.5" dy="8">2 hops</tspan></text>
<text x="1549.5" y="1746"><tspan>4@</tspan><tspan x="1549.5" dy="8">zen.</tspan><tspan x="1549.5" dy="8">spamhaus.</tspan><tspan x="1549.5" dy="8">org</tspan><tspan x="1549.5" dy="8">3 hops</tspan></text>
<text x="1558.5" y="1746"><tspan>14@</tspan><tspan x="1558.5" dy="8">b.</tspan><tspan x="1558.5" dy="8">barracudacentral.</tspan><tspan x="1558.5" dy="8">org</tspan><tspan x="1558.5" dy="8">4 hops</tspan></text>
<text x="1568.5" y="1746"><tspan>4@</tspan><tspan x="1568.5" dy="8">sbl-xbl.</tspan><tspan x="1568.5" dy="8">spamhaus.</tspan><tspan x="1568.5" dy="8">org</tspan><tspan x="1568.5" dy="8">3 hops</tspan></text>
<text x="1577.5" y="1746"><tspan>9@</tspan><tspan x="1577.5" dy="8">0.2.</tspan><tspan x="1577.5" dy="8">list.</tspan><tspan x="1577.5" dy="8">dnswl.</tspan><tspan x="1577.5" dy="8">org</tspan><tspan x="1577.5" dy="8">3 hops</tspan></text>
<text x="1586.5" y="1746"><tspan>10@</tspan><tspan x="1586.5" dy="8">dbl.</tspan><tspan x="1586.5" dy="8">spamhaus.</tspan><tspan x="1586.5" dy="8">org</tspan><tspan x="1586.5" dy="8">6 hops</tspan></text>
<text x="1596.5" y="1746"><tspan>None@</tspan><tspan x="1596.5" dy="8">zen.</tspan><tspan x="1596.5" dy="8">spamhaus.</tspan><tspan x="1596.5" dy="8">org</tspan><tspan x="1596.5" dy="8">Both</tspan></text>
<text x="1605.5" y="1746"><tspan>None@</tspan><tspan x="1605.5" dy="8">zen.</tspan><tspan x="1605.5" dy="8">spamhaus.</tspan><tspan x="1605.5" dy="8">org</tspan><tspan x="1605.5" dy="8">Both</tspan></text>
<text x="1615.5" y="1746"><tspan>11@</tspan><tspan x="1615.5" dy="8">xbl.</tspan><tspan x="1615.5" dy="8">spamhaus.</tspan><tspan x="1615.5" dy="8">org</tspan><tspan x="1615.5" dy="8">Both</tspan></text>
<text x="1624.5" y="1746"><tspan>10@</tspan><tspan x="1624.5" dy="8">zen.</tspan><tspan x="1624.5" dy="8">spamhaus.</tspan><tspan x="1624.5" dy="8">org</tspan><tspan x="1624.5" dy="8">6 hops</tspan></text>
<text x="1634.5" y="1746"><tspan>5@</tspan><tspan x="1634.5" dy="8">1.2.1.</tspan><tspan x="1634.5" dy="8">list.</tspan><tspan x="1634.5" dy="8">dnswl.</tspan><tspan x="1634.5" dy="8">org</tspan><tspan x="1634.5" dy="8">Both</tspan></text>
<text x="1643.5" y="1746"><tspan>12@</tspan><tspan x="1643.5" dy="8">ips.</tspan><tspan x="1643.5" dy="8">backscatterer.</tspan><tspan x="1643.5" dy="8">org</tspan><tspan x="1643.5" dy="8">1 hop</tspan></text>
<text x="1653.5" y="1746"><tspan>4@</tspan><tspan x="1653.5" dy="8">1.0.3.</tspan><tspan x="1653.5" dy="8">list.</tspan><tspan x="1653.5" dy="8">dnswl.</tspan><tspan x="1653.5" dy="8">org</tspan><tspan x="1653.5" dy="8">Both</tspan></text>
<text x="1662.5" y="1746"><tspan>140@</tspan><tspan x="1662.5" dy="8">bl.</tspan><tspan x="1662.5" dy="8">mailspike.</tspan><tspan x="1662.5" dy="8">net</tspan><tspan x="1662.5" dy="8">2 hops</tspan></text>
<text x="1671.5" y="1746"><tspan>6@</tspan><tspan x="1671.5" dy="8">psbl.</tspan><tspan x="1671.5" dy="8">surriel.</tspan><tspan x="1671.5" dy="8">com</tspan><tspan x="1671.5" dy="8">1 hop</tspan></text>
<text x="1681.5" y="1746"><tspan>8@</tspan><tspan x="1681.5" dy="8">Y.2.1.</tspan><tspan x="1681.5" dy="8">list.</tspan><tspan x="1681.5" dy="8">dnswl.</tspan><tspan x="1681.5" dy="8">org</tspan><tspan x="1681.5" dy="8">Both</tspan></text>
<text x="1690.5" y="1746"><tspan>6@</tspan><tspan x="1690.5" dy="8">0.2.</tspan><tspan x="1690.5" dy="8">list.</tspan><tspan x="1690.5" dy="8">dnswl.</tspan><tspan x="1690.5" dy="8">org</tspan><tspan x="1690.5" dy="8">Both</tspan></text>
<text x="1700.5" y="1746"><tspan>9@</tspan><tspan x="1700.5" dy="8">Y.Y.2.1.</tspan><tspan x="1700.5" dy="8">list.</tspan><tspan x="1700.5" dy="8">dnswl.</tspan><tspan x="1700.5" dy="8">org</tspan><tspan x="1700.5" dy="8">Both</tspan></text>
<text x="1709.5" y="1746"><tspan>14@</tspan><tspan x="1709.5" dy="8">Y.3.Y.</tspan><tspan x="1709.5" dy="8">list.</tspan><tspan x="1709.5" dy="8">dnswl.</tspan><tspan x="1709.5" dy="8">org</tspan><tspan x="1709.5" dy="8">3 hops</tspan></text>
<text x="1719.5" y="1746"><tspan>3@</tspan><tspan x="1719.5" dy="8">1.2.3.</tspan><tspan x="1719.5" dy="8">list.</tspan><tspan x="1719.5" dy="8">dnswl.</tspan><tspan x="1719.5" dy="8">org</tspan><tspan x="1719.5" dy="8">Both</tspan></text>
<text x="1728.5" y="1746"><tspan>11@</tspan><tspan x="1728.5" dy="8">Y.1.0.</tspan><tspan x="1728.5" dy="8">list.</tspan><tspan x="1728.5" dy="8">dnswl.</tspan><tspan x="1728.5" dy="8">org</tspan><tspan x="1728.5" dy="8">Both</tspan></text>
<text x="1738.5" y="1746"><tspan>13@</tspan><tspan x="1738.5" dy="8">0.3.2.Y.</tspan><tspan x="1738.5" dy="8">list.</tspan><tspan x="1738.5" dy="8">dnswl.</tspan><tspan x="1738.5" dy="8">org</tspan><tspan x="1738.5" dy="8">3 hops</tspan></text>
<text x="1747.5" y="1746"><tspan>5@</tspan><tspan x="1747.5" dy="8">Y.1.0.</tspan><tspan x="1747.5" dy="8">list.</tspan><tspan x="1747.5" dy="8">dnswl.</tspan><tspan x="1747.5" dy="8">org</tspan><tspan x="1747.5" dy="8">5 hops</tspan></text>
<text x="1757.5" y="1746"><tspan>6@</tspan><tspan x="1757.5" dy="8">0.Y.Y.</tspan><tspan x="1757.5" dy="8">list.</tspan><tspan x="1757.5" dy="8">dnswl.</tspan><tspan x="1757.5" dy="8">org</tspan><tspan x="1757.5" dy="8">Both</tspan></text>
<text x="1766.5" y="1746"><tspan>13@</tspan><tspan x="1766.5" dy="8">1.0.3.</tspan><tspan x="1766.5" dy="8">list.</tspan><tspan x="1766.5" dy="8">dnswl.</tspan><tspan x="1766.5" dy="8">org</tspan><tspan x="1766.5" dy="8">Both</tspan></text>
<text x="1775.5" y="1746"><tspan>20@</tspan><tspan x="1775.5" dy="8">Y.3.Y.</tspan><tspan x="1775.5" dy="8">spam.</tspan><tspan x="1775.5" dy="8">dnsbl.</tspan><tspan x="1775.5" dy="8">sorbs.</tspan><tspan x="1775.5" dy="8">net</tspan><tspan x="1775.5" dy="8">2 hops</tspan></text>
<text x="1785.5" y="1746"><tspan>None@</tspan><tspan x="1785.5" dy="8">0.Y.Y.</tspan><tspan x="1785.5" dy="8">list.</tspan><tspan x="1785.5" dy="8">dnswl.</tspan><tspan x="1785.5" dy="8">org</tspan><tspan x="1785.5" dy="8">3 hops</tspan></text>
<text x="1794.5" y="1746"><tspan>5@</tspan><tspan x="1794.5" dy="8">1.1.</tspan><tspan x="1794.5" dy="8">list.</tspan><tspan x="1794.5" dy="8">dnswl.</tspan><tspan x="1794.5" dy="8">org</tspan><tspan x="1794.5" dy="8">2 hops</tspan></text>
<text x="1804.5" y="1746"><tspan>12@</tspan><tspan x="1804.5" dy="8">Y.3.2.2.</tspan><tspan x="1804.5" dy="8">list.</tspan><tspan x="1804.5" dy="8">dnswl.</tspan><tspan x="1804.5" dy="8">org</tspan><tspan x="1804.5" dy="8">4 hops</tspan></text>
<text x="1813.5" y="1746"><tspan>13@</tspan><tspan x="1813.5" dy="8">2.1.Y.</tspan><tspan x="1813.5" dy="8">list.</tspan><tspan x="1813.5" dy="8">dnswl.</tspan><tspan x="1813.5" dy="8">org</tspan><tspan x="1813.5" dy="8">2 hops</tspan></text>
<text x="1823.5" y="1746"><tspan>6@</tspan><tspan x="1823.5" dy="8">Y.3.Y.</tspan><tspan x="1823.5" dy="8">list.</tspan><tspan x="1823.5" dy="8">dnswl.</tspan><tspan x="1823.5" dy="8">org</tspan><tspan x="1823.5" dy="8">5 hops</tspan></text>
<text x="1832.5" y="1746"><tspan>15@</tspan><tspan x="1832.5" dy="8">ix.</tspan><tspan x="1832.5" dy="8">dnsbl.</tspan><tspan x="1832.5" dy="8">manitu.</tspan><tspan x="1832.5" dy="8">net</tspan><tspan x="1832.5" dy="8">Both</tspan></text>
<text x="1842.5" y="1746"><tspan>105@</tspan><tspan x="1842.5" dy="8">1.0.3.</tspan><tspan x="1842.5" dy="8">list.</tspan><tspan x="1842.5" dy="8">dnswl.</tspan><tspan x="1842.5" dy="8">org</tspan><tspan x="1842.5" dy="8">4 hops</tspan></text>
<text x="1851.5" y="1746"><tspan>3@</tspan><tspan x="1851.5" dy="8">Y.2.</tspan><tspan x="1851.5" dy="8">list.</tspan><tspan x="1851.5" dy="8">dnswl.</tspan><tspan x="1851.5" dy="8">org</tspan><tspan x="1851.5" dy="8">2 hops</tspan></text>
<text x="1861.5" y="1746"><tspan>9@</tspan><tspan x="1861.5" dy="8">0.2.</tspan><tspan x="1861.5" dy="8">list.</tspan><tspan x="1861.5" dy="8">dnswl.</tspan><tspan x="1861.5" dy="8">org</tspan><tspan x="1861.5" dy="8">3 hops</tspan></text>
<text x="1870.5" y="1746"><tspan>12@</tspan><tspan x="1870.5" dy="8">Y.2.</tspan><tspan x="1870.5" dy="8">list.</tspan><tspan x="1870.5" dy="8">dnswl.</tspan><tspan x="1870.5" dy="8">org</tspan><tspan x="1870.5" dy="8">2 hops</tspan></text>
<text x="1879.5" y="1746"><tspan>14@</tspan><tspan x="1879.5" dy="8">ix.</tspan><tspan x="1879.5" dy="8">dnsbl.</tspan><tspan x="1879.5" dy="8">manitu.</tspan><tspan x="1879.5" dy="8">net</tspan><tspan x="1879.5" dy="8">Both</tspan></text>
<text x="1889.5" y="1746"><tspan>15@</tspan><tspan x="1889.5" dy="8">Y.Y.2.1.</tspan><tspan x="1889.5" dy="8">list.</tspan><tspan x="1889.5" dy="8">dnswl.</tspan><tspan x="1889.5" dy="8">org</tspan><tspan x="1889.5" dy="8">5 hops</tspan></text>
<text x="1898.5" y="1746"><tspan>15@</tspan><tspan x="1898.5" dy="8">Y.0.</tspan><tspan x="1898.5" dy="8">list.</tspan><tspan x="1898.5" dy="8">dnswl.</tspan><tspan x="1898.5" dy="8">org</tspan><tspan x="1898.5" dy="8">2 hops</tspan></text>
<text x="1908.5" y="1746"><tspan>14@</tspan><tspan x="1908.5" dy="8">1.2.3.</tspan><tspan x="1908.5" dy="8">list.</tspan><tspan x="1908.5" dy="8">dnswl.</tspan><tspan x="1908.5" dy="8">org</tspan><tspan x="1908.5" dy="8">3 hops</tspan></text>
<text x="1917.5" y="1746"><tspan>100@</tspan><tspan x="1917.5" dy="8">dnsbl.</tspan><tspan x="1917.5" dy="8">sorbs.</tspan><tspan x="1917.5" dy="8">net</tspan><tspan x="1917.5" dy="8">2 hops</tspan></text>
<text x="1927.5" y="1746"><tspan>105@</tspan><tspan x="1927.5" dy="8">1.2.1.</tspan><tspan x="1927.5" dy="8">list.</tspan><tspan x="1927.5" dy="8">dnswl.</tspan><tspan x="1927.5" dy="8">org</tspan><tspan x="1927.5" dy="8">Both</tspan></text>
<text x="1936.5" y="1746"><tspan>0@</tspan><tspan x="1936.5" dy="8">list.</tspan><tspan x="1936.5" dy="8">dnswl.</tspan><tspan x="1936.5" dy="8">org</tspan><tspan x="1936.5" dy="8">2 hops</tspan></text>
<text x="1946.5" y="1746"><tspan>2@</tspan><tspan x="1946.5" dy="8">0.Y.Y.</tspan><tspan x="1946.5" dy="8">list.</tspan><tspan x="1946.5" dy="8">dnswl.</tspan><tspan x="1946.5" dy="8">org</tspan><tspan x="1946.5" dy="8">3 hops</tspan></text>
<text x="1955.5" y="1746"><tspan>3@</tspan><tspan x="1955.5" dy="8">Y.1.0.</tspan><tspan x="1955.5" dy="8">list.</tspan><tspan x="1955.5" dy="8">dnswl.</tspan><tspan x="1955.5" dy="8">org</tspan><tspan x="1955.5" dy="8">Both</tspan></text>
<text x="1965.5" y="1746"><tspan>6@</tspan><tspan x="1965.5" dy="8">multi.</tspan><tspan x="1965.5" dy="8">uribl.</tspan><tspan x="1965.5" dy="8">com</tspan><tspan x="1965.5" dy="8">3 hops</tspan></text>
<text x="1974.5" y="1746"><tspan>10@</tspan><tspan x="1974.5" dy="8">Y.3.2.2.</tspan><tspan x="1974.5" dy="8">list.</tspan><tspan x="1974.5" dy="8">dnswl.</tspan><tspan x="1974.5" dy="8">org</tspan><tspan x="1974.5" dy="8">2 hops</tspan></text>
<text x="1983.5" y="1746"><tspan>140@</tspan><tspan x="1983.5" dy="8">1.0.3.</tspan><tspan x="1983.5" dy="8">list.</tspan><tspan x="1983.5" dy="8">dnswl.</tspan><tspan x="1983.5" dy="8">org</tspan><tspan x="1983.5" dy="8">4 hops</tspan></text>
<text x="1993.5" y="1746"><tspan>2@</tspan><tspan x="1993.5" dy="8">Y.1.0.</tspan><tspan x="1993.5" dy="8">list.</tspan><tspan x="1993.5" dy="8">dnswl.</tspan><tspan x="1993.5" dy="8">org</tspan><tspan x="1993.5" dy="8">1 hop</tspan></text>
<text x="2002.5" y="1746"><tspan>6@</tspan><tspan x="2002.5" dy="8">dnsbl.</tspan><tspan x="2002.5" dy="8">sorbs.</tspan><tspan x="2002.5" dy="8">net</tspan><tspan x="2002.5" dy="8">6 hops</tspan></text>
<text x="2012.5" y="1746"><tspan>100@</tspan><tspan x="2012.5" dy="8">0.Y.Y.</tspan><tspan x="2012.5" dy="8">list.</tspan><tspan x="2012.5" dy="8">dnswl.</tspan><tspan x="2012.5" dy="8">org</tspan><tspan x="2012.5" dy="8">3 hops</tspan></text>
<text x="2021.5" y="1746"><tspan>15@</tspan><tspan x="2021.5" dy="8">Y.1.0.</tspan><tspan x="2021.5" dy="8">spam.</tspan><tspan x="2021.5" dy="8">dnsbl.</tspan><tspan x="2021.5" dy="8">sorbs.</tspan><tspan x="2021.5" dy="8">net</tspan><tspan x="2021.5" dy="8">Both</tspan></text>
<text x="2031.5" y="1746"><tspan>12@</tspan><tspan x="2031.5" dy="8">1.1.</tspan><tspan x="2031.5" dy="8">list.</tspan><tspan x="2031.5" dy="8">dnswl.</tspan><tspan x="2031.5" dy="8">org</tspan><tspan x="2031.5" dy="8">2 hops</tspan></text>
<text x="2040.5" y="1746"><tspan>100@</tspan><tspan x="2040.5" dy="8">1.1.</tspan><tspan x="2040.5" dy="8">list.</tspan><tspan x="2040.5" dy="8">dnswl.</tspan><tspan x="2040.5" dy="8">org</tspan><tspan x="2040.5" dy="8">Both</tspan></text>
<text x="2050.5" y="1746"><tspan>100@</tspan><tspan x="2050.5" dy="8">sbl.</tspan><tspan x="2050.5" dy="8">spamhaus.</tspan><tspan x="2050.5" dy="8">org</tspan><tspan x="2050.5" dy="8">2 hops</tspan></text>
<text x="2059.5" y="1746"><tspan>15@</tspan><tspan x="2059.5" dy="8">1.0.3.</tspan><tspan x="2059.5" dy="8">list.</tspan><tspan x="2059.5" dy="8">dnswl.</tspan><tspan x="2059.5" dy="8">org</tspan><tspan x="2059.5" dy="8">6 hops</tspan></text>
<text x="2069.5" y="1746"><tspan>8@</tspan><tspan x="2069.5" dy="8">Y.3.2.2.</tspan><tspan x="2069.5" dy="8">list.</tspan><tspan x="2069.5" dy="8">dnswl.</tspan><tspan x="2069.5" dy="8">org</tspan><tspan x="2069.5" dy="8">3 hops</tspan></text>
<text x="2078.5" y="1746"><tspan>12@</tspan><tspan x="2078.5" dy="8">Y.3.Y.</tspan><tspan x="2078.5" dy="8">list.</tspan><tspan x="2078.5" dy="8">dnswl.</tspan><tspan x="2078.5" dy="8">org</tspan><tspan x="2078.5" dy="8">5 hops</tspan></text>
<text x="2087.5" y="1746"><tspan>100@</tspan><tspan x="2087.5" dy="8">Y.1.0.</tspan><tspan x="2087.5" dy="8">list.</tspan><tspan x="2087.5" dy="8">dnswl.</tspan><tspan x="2087.5" dy="8">org</tspan><tspan x="2087.5" dy="8">5 hops</tspan></text>
<text x="2097.5" y="1746"><tspan>None@</tspan><tspan x="2097.5" dy="8">0.3.2.Y.</tspan><tspan x="2097.5" dy="8">list.</tspan><tspan x="2097.5" dy="8">dnswl.</tspan><tspan x="2097.5" dy="8">org</tspan><tspan x="2097.5" dy="8">5 hops</tspan></text>
<text x="2106.5" y="1746"><tspan>None@</tspan><tspan x="2106.5" dy="8">ix.</tspan><tspan x="2106.5" dy="8">dnsbl.</tspan><tspan x="2106.5" dy="8">manitu.</tspan><tspan x="2106.5" dy="8">net</tspan><tspan x="2106.5" dy="8">Both</tspan></text>
<text x="2116.5" y="1746"><tspan>3@</tspan><tspan x="2116.5" dy="8">dbl.</tspan><tspan x="2116.5" dy="8">spamhaus.</tspan><tspan x="2116.5" dy="8">org</tspan><tspan x="2116.5" dy="8">5 hops</tspan></text>
<text x="2125.5" y="1746"><tspan>3@</tspan><tspan x="2125.5" dy="8">zen.</tspan><tspan x="2125.5" dy="8">spamhaus.</tspan><tspan x="2125.5" dy="8">org</tspan><tspan x="2125.5" dy="8">4 hops</tspan></text>
<text x="2135.5" y="1746"><tspan>11@</tspan><tspan x="2135.5" dy="8">sbl.</tspan><tspan x="2135.5" dy="8">spamhaus.</tspan><tspan x="2135.5" dy="8">org</tspan><tspan x="2135.5" dy="8">Both</tspan></text>
<text x="2144.5" y="1746"><tspan>20@</tspan><tspan x="2144.5" dy="8">1.2.3.</tspan><tspan x="2144.5" dy="8">list.</tspan><tspan x="2144.5" dy="8">dnswl.</tspan><tspan x="2144.5" dy="8">org</tspan><tspan x="2144.5" dy="8">Both</tspan></text>
<text x="2154.5" y="1746"><tspan>5@</tspan><tspan x="2154.5" dy="8">ix.</tspan><tspan x="2154.5" dy="8">dnsbl.</tspan><tspan x="2154.5" dy="8">manitu.</tspan><tspan x="2154.5" dy="8">net</tspan><tspan x="2154.5" dy="8">2 hops</tspan></text>
<text x="2163.5" y="1746"><tspan>20@</tspan><tspan x="2163.5" dy="8">b.</tspan><tspan x="2163.5" dy="8">barracudacentral.</tspan><tspan x="2163.5" dy="8">org</tspan><tspan x="2163.5" dy="8">6 hops</tspan></text>
<text x="2173.5" y="1746"><tspan>105@</tspan><tspan x="2173.5" dy="8">0.0.3.</tspan><tspan x="2173.5" dy="8">list.</tspan><tspan x="2173.5" dy="8">dnswl.</tspan><tspan x="2173.5" dy="8">org</tspan><tspan x="2173.5" dy="8">2 hops</tspan></text>
<text x="2182.5" y="1746"><tspan>14@</tspan><tspan x="2182.5" dy="8">2.1.Y.</tspan><tspan x="2182.5" dy="8">list.</tspan><tspan x="2182.5" dy="8">dnswl.</tspan><tspan x="2182.5" dy="8">org</tspan><tspan x="2182.5" dy="8">6 hops</tspan></text>
<text x="2191.5" y="1746"><tspan>10@</tspan><tspan x="2191.5" dy="8">Y.3.2.2.</tspan><tspan x="2191.5" dy="8">list.</tspan><tspan x="2191.5" dy="8">dnswl.</tspan><tspan x="2191.5" dy="8">org</tspan><tspan x="2191.5" dy="8">1 hop</tspan></text>
<text x="2201.5" y="1746"><tspan>9@</tspan><tspan x="2201.5" dy="8">1.2.1.</tspan><tspan x="2201.5" dy="8">list.</tspan><tspan x="2201.5" dy="8">dnswl.</tspan><tspan x="2201.5" dy="8">org</tspan><tspan x="2201.5" dy="8">Both</tspan></text>
<text x="2210.5" y="1746"><tspan>12@</tspan><tspan x="2210.5" dy="8">2.2.Y.</tspan><tspan x="2210.5" dy="8">list.</tspan><tspan x="2210.5" dy="8">dnswl.</tspan><tspan x="2210.5" dy="8">org</tspan><tspan x="2210.5" dy="8">Both</tspan></text>
<text x="2220.5" y="1746"><tspan>8@</tspan><tspan x="2220.5" dy="8">Y.3.2.2.</tspan><tspan x="2220.5" dy="8">list.</tspan><tspan x="2220.5" dy="8">dnswl.</tspan><tspan x="2220.5" dy="8">org</tspan><tspan x="2220.5" dy="8">Both</tspan></text>
<text x="2229.5" y="1746"><tspan>None@</tspan><tspan x="2229.5" dy="8">2.2.Y.</tspan><tspan x="2229.5" dy="8">list.</tspan><tspan x="2229.5" dy="8">dnswl.</tspan><tspan x="2229.5" dy="8">org</tspan><tspan x="2229.5" dy="8">4 hops</tspan></text>
<text x="2239.5" y="1746"><tspan>0@</tspan><tspan x="2239.5" dy="8">2.1.Y.</tspan><tspan x="2239.5" dy="8">list.</tspan><tspan x="2239.5" dy="8">dnswl.</tspan><tspan x="2239.5" dy="8">org</tspan><tspan x="2239.5" dy="8">4 hops</tspan></text>
<text x="2248.5" y="1746"><tspan>None@</tspan><tspan x="2248.5" dy="8">1.1.</tspan><tspan x="2248.5" dy="8">list.</tspan><tspan x="2248.5" dy="8">dnswl.</tspan><tspan x="2248.5" dy="8">org</tspan><tspan x="2248.5" dy="8">1 hop</tspan></text>
<text x="2258.5" y="1746"><tspan>14@</tspan><tspan x="2258.5" dy="8">1.0.3.</tspan><tspan x="2258.5" dy="8">list.</tspan><tspan x="2258.5" dy="8">dnswl.</tspan><tspan x="2258.5" dy="8">org</tspan><tspan x="2258.5" dy="8">1 hop</tspan></text>
<text x="2267.5" y="1746"><tspan>4@</tspan><tspan x="2267.5" dy="8">Y.2.</tspan><tspan x="2267.5" dy="8">list.</tspan><tspan x="2267.5" dy="8">dnswl.</tspan><tspan x="2267.5" dy="8">org</tspan><tspan x="2267.5" dy="8">1 hop</tspan></text>
<text x="2276.5" y="1746"><tspan>4@</tspan><tspan x="2276.5" dy="8">2.1.Y.</tspan><tspan x="2276.5" dy="8">list.</tspan><tspan x="2276.5" dy="8">dnswl.</tspan><tspan x="2276.5" dy="8">org</tspan><tspan x="2276.5" dy="8">5 hops</tspan></text>
<text x="2286.5" y="1746"><tspan>5@</tspan><tspan x="2286.5" dy="8">0.0.3.</tspan><tspan x="2286.5" dy="8">list.</tspan><tspan x="2286.5" dy="8">dnswl.</tspan><tspan x="2286.5" dy="8">org</tspan><tspan x="2286.5" dy="8">5 hops</tspan></text>
<text x="2295.5" y="1746"><tspan>5@</tspan><tspan x="2295.5" dy="8">Y.1.0.</tspan><tspan x="2295.5" dy="8">list.</tspan><tspan x="2295.5" dy="8">dnswl.</tspan><tspan x="2295.5" dy="8">org</tspan><tspan x="2295.5" dy="8">5 hops</tspan></text>
<text x="2305.5" y="1746"><tspan>4@</tspan><tspan x="2305.5" dy="8">0.Y.Y.</tspan><tspan x="2305.5" dy="8">list.</tspan><tspan x="2305.5" dy="8">dnswl.</tspan><tspan x="2305.5" dy="8">org</tspan><tspan x="2305.5" dy="8">1 hop</tspan></text>
<text x="2314.5" y="1746"><tspan>0@</tspan><tspan x="2314.5" dy="8">Y.2.</tspan><tspan x="2314.5" dy="8">list.</tspan><tspan x="2314.5" dy="8">dnswl.</tspan><tspan x="2314.5" dy="8">org</tspan><tspan x="2314.5" dy="8">Both</tspan></text>
<text x="2324.5" y="1746"><tspan>None@</tspan><tspan x="2324.5" dy="8">db.</tspan><tspan x="2324.5" dy="8">wpbl.</tspan><tspan x="2324.5" dy="8">info</tspan><tspan x="2324.5" dy="8">3 hops</tspan></text>
<text x="2333.5" y="1746"><tspan>8@</tspan><tspan x="2333.5" dy="8">0.Y.Y.</tspan><tspan x="2333.5" dy="8">list.</tspan><tspan x="2333.5" dy="8">dnswl.</tspan><tspan x="2333.5" dy="8">org</tspan><tspan x="2333.5" dy="8">3 hops</tspan></text>
<text x="2343.5" y="1746"><tspan>5@</tspan><tspan x="2343.5" dy="8">2.2.Y.</tspan><tspan x="2343.5" dy="8">list.</tspan><tspan x="2343.5" dy="8">dnswl.</tspan><tspan x="2343.5" dy="8">org</tspan><tspan x="2343.5" dy="8">2 hops</tspan></text>
<text x="2352.5" y="1746"><tspan>4@</tspan><tspan x="2352.5" dy="8">Y.3.Y.</tspan><tspan x="2352.5" dy="8">list.</tspan><tspan x="2352.5" dy="8">dnswl.</tspan><tspan x="2352.5" dy="8">org</tspan><tspan x="2352.5" dy="8">3 hops</tspan></text>
<text x="2362.5" y="1746"><tspan>20@</tspan><tspan x="2362.5" dy="8">1.1.</tspan><tspan x="2362.5" dy="8">list.</tspan><tspan x="2362.5" dy="8">dnswl.</tspan><tspan x="2362.5" dy="8">org</tspan><tspan x="2362.5" dy="8">4 hops</tspan></text>
<text x="2371.5" y="1746"><tspan>3@</tspan><tspan x="2371.5" dy="8">2.1.Y.</tspan><tspan x="2371.5" dy="8">list.</tspan><tspan x="2371.5" dy="8">dnswl.</tspan><tspan x="2371.5" dy="8">org</tspan><tspan x="2371.5" dy="8">2 hops</tspan></text>
<text x="2380.5" y="1746"><tspan>15@</tspan><tspan x="2380.5" dy="8">Y.3.2.2.</tspan><tspan x="2380.5" dy="8">list.</tspan><tspan x="2380.5" dy="8">dnswl.</tspan><tspan x="2380.5" dy="8">org</tspan><tspan x="2380.5" dy="8">2 hops</tspan></text>
<text x="2390.5" y="1746"><tspan>4@</tspan><tspan x="2390.5" dy="8">1.2.1.</tspan><tspan x="2390.5" dy="8">list.</tspan><tspan x="2390.5" dy="8">dnswl.</tspan><tspan x="2390.5" dy="8">org</tspan><tspan x="2390.5" dy="8">4 hops</tspan></text>
<text x="2399.5" y="1746"><tspan>0@</tspan><tspan x="2399.5" dy="8">0.Y.Y.</tspan><tspan x="2399.5" dy="8">list.</tspan><tspan x="2399.5" dy="8">dnswl.</tspan><tspan x="2399.5" dy="8">org</tspan><tspan x="2399.5" dy="8">3 hops</tspan></text>
<text x="2409.5" y="1746"><tspan>0@</tspan><tspan x="2409.5" dy="8">0.Y.Y.</tspan><tspan x="2409.5" dy="8">list.</tspan><tspan x="2409.5" dy="8">dnswl.</tspan><tspan x="2409.5" dy="8">org</tspan><tspan x="2409.5" dy="8">5 hops</tspan></text>
<text x="2418.5" y="1746"><tspan>10@</tspan><tspan x="2418.5" dy="8">Y.1.0.</tspan><tspan x="2418.5" dy="8">list.</tspan><tspan x="2418.5" dy="8">dnswl.</tspan><tspan x="2418.5" dy="8">org</tspan><tspan x="2418.5" dy="8">5 hops</tspan></text>
<text x="2428.5" y="1746"><tspan>6@</tspan><tspan x="2428.5" dy="8">Y.2.</tspan><tspan x="2428.5" dy="8">list.</tspan><tspan x="2428.5" dy="8">dnswl.</tspan><tspan x="2428.5" dy="8">org</tspan><tspan x="2428.5" dy="8">6 hops</tspan></text>
<text x="2437.5" y="1746"><tspan>12@</tspan><tspan x="2437.5" dy="8">0.Y.Y.</tspan><tspan x="2437.5" dy="8">list.</tspan><tspan x="2437.5" dy="8">dnswl.</tspan><tspan x="2437.5" dy="8">org</tspan><tspan x="2437.5" dy="8">2 hops</tspan></text>
<text x="2447.5" y="1746"><tspan>100@</tspan><tspan x="2447.5" dy="8">Y.1.0.</tspan><tspan x="2447.5" dy="8">list.</tspan><tspan x="2447.5" dy="8">dnswl.</tspan><tspan x="2447.5" dy="8">org</tspan><tspan x="2447.5" dy="8">3 hops</tspan></text>
<text x="2456.5" y="1746"><tspan>140@</tspan><tspan x="2456.5" dy="8">ix.</tspan><tspan x="2456.5" dy="8">dnsbl.</tspan><tspan x="2456.5" dy="8">manitu.</tspan><tspan x="2456.5" dy="8">net</tspan><tspan x="2456.5" dy="8">4 hops</tspan></text>
<text x="2466.5" y="1746"><tspan>14@</tspan><tspan x="2466.5" dy="8">0.Y.Y.</tspan><tspan x="2466.5" dy="8">list.</tspan><tspan x="2466.5" dy="8">dnswl.</tspan><tspan x="2466.5" dy="8">org</tspan><tspan x="2466.5" dy="8">5 hops</tspan></text>
<text x="2475.5" y="1746"><tspan>100@</tspan><tspan x="2475.5" dy="8">1.2.1.</tspan><tspan x="2475.5" dy="8">list.</tspan><tspan x="2475.5" dy="8">dnswl.</tspan><tspan x="2475.5" dy="8">org</tspan><tspan x="2475.5" dy="8">Both</tspan></text>
<text x="2484.5" y="1746"><tspan>3@</tspan><tspan x="2484.5" dy="8">Y.Y.2.1.</tspan><tspan x="2484.5" dy="8">list.</tspan><tspan x="2484.5" dy="8">dnswl.</tspan><tspan x="2484.5" dy="8">org</tspan><tspan x="2484.5" dy="8">2 hops</tspan></text>
<text x="2494.5" y="1746"><tspan>100@</tspan><tspan x="2494.5" dy="8">2.2.Y.</tspan><tspan x="2494.5" dy="8">list.</tspan><tspan x="2494.5" dy="8">dnswl.</tspan><tspan x="2494.5" dy="8">org</tspan><tspan x="2494.5" dy="8">2 hops</tspan></text>
<text x="2503.5" y="1746"><tspan>8@</tspan><tspan x="2503.5" dy="8">1.2.1.</tspan><tspan x="2503.5" dy="8">list.</tspan><tspan x="2503.5" dy="8">dnswl.</tspan><tspan x="2503.5" dy="8">org</tspan><tspan x="2503.5" dy="8">4 hops</tspan></text>
<text x="2513.5" y="1746"><tspan>140@</tspan><tspan x="2513.5" dy="8">Y.3.2.2.</tspan><tspan x="2513.5" dy="8">list.</tspan><tspan x="2513.5" dy="8">dnswl.</tspan><tspan x="2513.5" dy="8">org</tspan><tspan x="2513.5" dy="8">4 hops</tspan></text>
<text x="2522.5" y="1746"><tspan>20@</tspan><tspan x="2522.5" dy="8">Y.2.</tspan><tspan x="2522.5" dy="8">list.</tspan><tspan x="2522.5" dy="8">dnswl.</tspan><tspan x="2522.5" dy="8">org</tspan><tspan x="2522.5" dy="8">2 hops</tspan></text>
<text x="2532.5" y="1746"><tspan>2@</tspan><tspan x="2532.5" dy="8">2.2.Y.</tspan><tspan x="2532.5" dy="8">list.</tspan><tspan x="2532.5" dy="8">dnswl.</tspan><tspan x="2532.5" dy="8">org</tspan><tspan x="2532.5" dy="8">2 hops</tspan></text>
<text x="2541.5" y="1746"><tspan>9@</tspan><tspan x="2541.5" dy="8">Y.2.1.</tspan><tspan x="2541.5" dy="8">list.</tspan><tspan x="2541.5" dy="8">dnswl.</tspan><tspan x="2541.5" dy="8">org</tspan><tspan x="2541.5" dy="8">6 hops</tspan></text>
<text x="2551.5" y="1746"><tspan>6@</tspan><tspan x="2551.5" dy="8">Y.3.Y.</tspan><tspan x="2551.5" dy="8">list.</tspan><tspan x="2551.5" dy="8">dnswl.</tspan><tspan x="2551.5" dy="8">org</tspan><tspan x="2551.5" dy="8">1 hop</tspan></text>
<text x="2560.5" y="1746"><tspan>5@</tspan><tspan x="2560.5" dy="8">2.2.Y.</tspan><tspan x="2560.5" dy="8">list.</tspan><tspan x="2560.5" dy="8">dnswl.</tspan><tspan x="2560.5" dy="8">org</tspan><tspan x="2560.5" dy="8">Both</tspan></text>
<text x="2570.5" y="1746"><tspan>8@</tspan><tspan x="2570.5" dy="8">Y.3.Y.</tspan><tspan x="2570.5" dy="8">list.</tspan><tspan x="2570.5" dy="8">dnswl.</tspan><tspan x="2570.5" dy="8">org</tspan><tspan x="2570.5" dy="8">2 hops</tspan></text>
<text x="2579.5" y="1746"><tspan>None@</tspan><tspan x="2579.5" dy="8">Y.0.</tspan><tspan x="2579.5" dy="8">list.</tspan><tspan x="2579.5" dy="8">dnswl.</tspan><tspan x="2579.5" dy="8">org</tspan><tspan x="2579.5" dy="8">3 hops</tspan></text>
<text x="2588.5" y="1746"><tspan>10@</tspan><tspan x="2588.5" dy="8">Y.2.1.</tspan><tspan x="2588.5" dy="8">list.</tspan><tspan x="2588.5" dy="8">dnswl.</tspan><tspan x="2588.5" dy="8">org</tspan><tspan x="2588.5" dy="8">Both</tspan></text>
<text x="2598.5" y="1746"><tspan>4@</tspan><tspan x="2598.5" dy="8">0.3.2.Y.</tspan><tspan x="2598.5" dy="8">list.</tspan><tspan x="2598.5" dy="8">dnswl.</tspan><tspan x="2598.5" dy="8">org</tspan><tspan x="2598.5" dy="8">Both</tspan></text>
<text x="2607.5" y="1746"><tspan>6@</tspan><tspan x="2607.5" dy="8">Y.1.0.</tspan><tspan x="2607.5" dy="8">list.</tspan><tspan x="2607.5" dy="8">dnswl.</tspan><tspan x="2607.5" dy="8">org</tspan><tspan x="2607.5" dy="8">Both</tspan></text>
<text x="2617.5" y="1746"><tspan>15@</tspan><tspan x="2617.5" dy="8">Y.1.0.</tspan><tspan x="2617.5" dy="8">list.</tspan><tspan x="2617.5" dy="8">dnswl.</tspan><tspan x="2617.5" dy="8">org</tspan><tspan x="2617.5" dy="8">1 hop</tspan></text>
<text x="2626.5" y="1746"><tspan>9@</tspan><tspan x="2626.5" dy="8">1.1.</tspan><tspan x="2626.5" dy="8">list.</tspan><tspan x="2626.5" dy="8">dnswl.</tspan><tspan x="2626.5" dy="8">org</tspan><tspan x="2626.5" dy="8">Both</tspan></text>
<text x="2636.5" y="1746"><tspan>9@</tspan><tspan x="2636.5" dy="8">Y.3.Y.</tspan><tspan x="2636.5" dy="8">list.</tspan><tspan x="2636.5" dy="8">dnswl.</tspan><tspan x="2636.5" dy="8">org</tspan><tspan x="2636.5" dy="8">Both</tspan></text>
<text x="2645.5" y="1746"><tspan>14@</tspan><tspan x="2645.5" dy="8">Y.Y.2.1.</tspan><tspan x="2645.5" dy="8">list.</tspan><tspan x="2645.5" dy="8">dnswl.</tspan><tspan x="2645.5" dy="8">org</tspan><tspan x="2645.5" dy="8">4 hops</tspan></text>
<text x="2655.5" y="1746"><tspan>20@</tspan><tspan x="2655.5" dy="8">1.2.1.</tspan><tspan x="2655.5" dy="8">list.</tspan><tspan x="2655.5" dy="8">dnswl.</tspan><tspan x="2655.5" dy="8">org</tspan><tspan x="2655.5" dy="8">Both</tspan></text>
<text x="2664.5" y="1746"><tspan>14@</tspan><tspan x="2664.5" dy="8">2.2.Y.</tspan><tspan x="2664.5" dy="8">list.</tspan><tspan x="2664.5" dy="8">dnswl.</tspan><tspan x="2664.5" dy="8">org</tspan><tspan x="2664.5" dy="8">5 hops</tspan></text>
<text x="2674.5" y="1746"><tspan>20@</tspan><tspan x="2674.5" dy="8">Y.Y.2.1.</tspan><tspan x="2674.5" dy="8">list.</tspan><tspan x="2674.5" dy="8">dnswl.</tspan><tspan x="2674.5" dy="8">org</tspan><tspan x="2674.5" dy="8">3 hops</tspan></text>
<text x="2683.5" y="1746"><tspan>11@</tspan><tspan x="2683.5" dy="8">1.0.3.</tspan><tspan x="2683.5" dy="8">list.</tspan><tspan x="2683.5" dy="8">dnswl.</tspan><tspan x="2683.5" dy="8">org</tspan><tspan x="2683.5" dy="8">Both</tspan></text>
<text x="2692.5" y="1746"><tspan>9@</tspan><tspan x="2692.5" dy="8">0.3.2.Y.</tspan><tspan x="2692.5" dy="8">list.</tspan><tspan x="2692.5" dy="8">dnswl.</tspan><tspan x="2692.5" dy="8">org</tspan><tspan x="2692.5" dy="8">3 hops</tspan></text>
<text x="2702.5" y="1746"><tspan>8@</tspan><tspan x="2702.5" dy="8">0.2.</tspan><tspan x="2702.5" dy="8">list.</tspan><tspan x="2702.5" dy="8">dnswl.</tspan><tspan x="2702.5" dy="8">org</tspan><tspan x="2702.5" dy="8">3 hops</tspan></text>
<text x="2711.5" y="1746"><tspan>4@</tspan><tspan x="2711.5" dy="8">1.0.3.</tspan><tspan x="2711.5" dy="8">list.</tspan><tspan x="2711.5" dy="8">dnswl.</tspan><tspan x="2711.5" dy="8">org</tspan><tspan x="2711.5" dy="8">2 hops</tspan></text>
<text x="2721.5" y="1746"><tspan>12@</tspan><tspan x="2721.5" dy="8">Y.2.1.</tspan><tspan x="2721.5" dy="8">list.</tspan><tspan x="2721.5" dy="8">dnswl.</tspan><tspan x="2721.5" dy="8">org</tspan><tspan x="2721.5" dy="8">5 hops</tspan></text>
<text x="2730.5" y="1746"><tspan>3@</tspan><tspan x="2730.5" dy="8">2.1.Y.</tspan><tspan x="2730.5" dy="8">list.</tspan><tspan x="2730.5" dy="8">dnswl.</tspan><tspan x="2730.5" dy="8">org</tspan><tspan x="2730.5" dy="8">2 hops</tspan></text>
<text x="2740.5" y="1746"><tspan>14@</tspan><tspan x="2740.5" dy="8">0.3.2.Y.</tspan><tspan x="2740.5" dy="8">list.</tspan><tspan x="2740.5" dy="8">dnswl.</tspan><tspan x="2740.5" dy="8">org</tspan><tspan x="2740.5" dy="8">2 hops</tspan></text>
<text x="2749.5" y="1746"><tspan>100@</tspan><tspan x="2749.5" dy="8">1.0.3.</tspan><tspan x="2749.5" dy="8">list.</tspan><tspan x="2749.5" dy="8">dnswl.</tspan><tspan x="2749.5" dy="8">org</tspan><tspan x="2749.5" dy="8">5 hops</tspan></text>
<text x="2759.5" y="1746"><tspan>12@</tspan><tspan x="2759.5" dy="8">0.3.2.Y.</tspan><tspan x="2759.5" dy="8">list.</tspan><tspan x="2759.5" dy="8">dnswl.</tspan><tspan x="2759.5" dy="8">org</tspan><tspan x="2759.5" dy="8">2 hops</tspan></text>
<text x="2768.5" y="1746"><tspan>3@</tspan><tspan x="2768.5" dy="8">0.2.</tspan><tspan x="2768.5" dy="8">list.</tspan><tspan x="2768.5" dy="8">dnswl.</tspan><tspan x="2768.5" dy="8">org</tspan><tspan x="2768.5" dy="8">Both</tspan></text>
<text x="2778.5" y="1746"><tspan>9@</tspan><tspan x="2778.5" dy="8">Y.2.1.</tspan><tspan x="2778.5" dy="8">list.</tspan><tspan x="2778.5" dy="8">dnswl.</tspan><tspan x="2778.5" dy="8">org</tspan><tspan x="2778.5" dy="8">2 hops</tspan></text>
<text x="2787.5" y="1746"><tspan>12@</tspan><tspan x="2787.5" dy="8">0.0.3.</tspan><tspan x="2787.5" dy="8">list.</tspan><tspan x="2787.5" dy="8">dnswl.</tspan><tspan x="2787.5" dy="8">org</tspan><tspan x="2787.5" dy="8">1 hop</tspan></text>
<text x="2796.5" y="1746"><tspan>5@</tspan><tspan x="2796.5" dy="8">1.0.3.</tspan><tspan x="2796.5" dy="8">list.</tspan><tspan x="2796.5" dy="8">dnswl.</tspan><tspan x="2796.5" dy="8">org</tspan><tspan x="2796.5" dy="8">2 hops</tspan></text>
<text x="2806.5" y="1746"><tspan>13@</tspan><tspan x="2806.5" dy="8">Y.1.0.</tspan><tspan x="2806.5" dy="8">list.</tspan><tspan x="2806.5" dy="8">dnswl.</tspan><tspan x="2806.5" dy="8">org</tspan><tspan x="2806.5" dy="8">Both</tspan></text>
<text x="2815.5" y="1746"><tspan>8@</tspan><tspan x="2815.5" dy="8">0.Y.Y.</tspan><tspan x="2815.5" dy="8">list.</tspan><tspan x="2815.5" dy="8">dnswl.</tspan><tspan x="2815.5" dy="8">org</tspan><tspan x="2815.5" dy="8">5 hops</tspan></text>
<text x="2825.5" y="1746"><tspan>9@</tspan><tspan x="2825.5" dy="8">0.2.</tspan><tspan x="2825.5" dy="8">list.</tspan><tspan x="2825.5" dy="8">dnswl.</tspan><tspan x="2825.5" dy="8">org</tspan><tspan x="2825.5" dy="8">2 hops</tspan></text>
<text x="2834.5" y="1746"><tspan>2@</tspan><tspan x="2834.5" dy="8">Y.0.</tspan><tspan x="2834.5" dy="8">list.</tspan><tspan x="2834.5" dy="8">dnswl.</tspan><tspan x="2834.5" dy="8">org</tspan><tspan x="2834.5" dy="8">1 hop</tspan></text>
<text x="2844.5" y="1746"><tspan>0@</tspan><tspan x="2844.5" dy="8">1.2.3.</tspan><tspan x="2844.5" dy="8">list.</tspan><tspan x="2844.5" dy="8">dnswl.</tspan><tspan x="2844.5" dy="8">org</tspan><tspan x="2844.5" dy="8">5 hops</tspan></text>
<text x="2853.5" y="1746"><tspan>None@</tspan><tspan x="2853.5" dy="8">1.2.1.</tspan><tspan x="2853.5" dy="8">spam.</tspan><tspan x="2853.5" dy="8">dnsbl.</tspan><tspan x="2853.5" dy="8">sorbs.</tspan><tspan x="2853.5" dy="8">net</tspan><tspan x="2853.5" dy="8">Both</tspan></text>
<text x="2863.5" y="1746"><tspan>9@</tspan><tspan x="2863.5" dy="8">2.2.Y.</tspan><tspan x="2863.5" dy="8">list.</tspan><tspan x="2863.5" dy="8">dnswl.</tspan><tspan x="2863.5" dy="8">org</tspan><tspan x="2863.5" dy="8">Both</tspan></text>
<text x="2872.5" y="1746"><tspan>0@</tspan><tspan x="2872.5" dy="8">0.2.</tspan><tspan x="2872.5" dy="8">list.</tspan><tspan x="2872.5" dy="8">dnswl.</tspan><tspan x="2872.5" dy="8">org</tspan><tspan x="2872.5" dy="8">3 hops</tspan></text>
<text x="2881.5" y="1746"><tspan>3@</tspan><tspan x="2881.5" dy="8">Y.2.1.</tspan><tspan x="2881.5" dy="8">list.</tspan><tspan x="2881.5" dy="8">dnswl.</tspan><tspan x="2881.5" dy="8">org</tspan><tspan x="2881.5" dy="8">Both</tspan></text>
<text x="2891.5" y="1746"><tspan>5@</tspan><tspan x="2891.5" dy="8">Y.3.2.2.</tspan><tspan x="2891.5" dy="8">list.</tspan><tspan x="2891.5" dy="8">dnswl.</tspan><tspan x="2891.5" dy="8">org</tspan><tspan x="2891.5" dy="8">3 hops</tspan></text>
<text x="2900.5" y="1746"><tspan>105@</tspan><tspan x="2900.5" dy="8">Y.2.1.</tspan><tspan x="2900.5" dy="8">list.</tspan><tspan x="2900.5" dy="8">dnswl.</tspan><tspan x="2900.5" dy="8">org</tspan><tspan x="2900.5" dy="8">Both</tspan></text>
<text x="2910.5" y="1746"><tspan>4@</tspan><tspan x="2910.5" dy="8">1.2.1.</tspan><tspan x="2910.5" dy="8">list.</tspan><tspan x="2910.5" dy="8">dnswl.</tspan><tspan x="2910.5" dy="8">org</tspan><tspan x="2910.5" dy="8">5 hops</tspan></text>
<text x="2919.5" y="1746"><tspan>None@</tspan><tspan x="2919.5" dy="8">0.3.2.Y.</tspan><tspan x="2919.5" dy="8">list.</tspan><tspan x="2919.5" dy="8">dnswl.</tspan><tspan x="2919.5" dy="8">org</tspan><tspan x="2919.5" dy="8">5 hops</tspan></text>
<text x="2929.5" y="1746"><tspan>100@</tspan><tspan x="2929.5" dy="8">2.2.Y.</tspan><tspan x="2929.5" dy="8">list.</tspan><tspan x="2929.5" dy="8">dnswl.</tspan><tspan x="2929.5" dy="8">org</tspan><tspan x="2929.5" dy="8">2 hops</tspan></text>
<text x="2938.5" y="1746"><tspan>6@</tspan><tspan x="2938.5" dy="8">2.1.Y.</tspan><tspan x="2938.5" dy="8">list.</tspan><tspan x="2938.5" dy="8">dnswl.</tspan><tspan x="2938.5" dy="8">org</tspan><tspan x="2938.5" dy="8">3 hops</tspan></text>
<text x="2948.5" y="1746"><tspan>6@</tspan><tspan x="2948.5" dy="8">Y.2.1.</tspan><tspan x="2948.5" dy="8">list.</tspan><tspan x="2948.5" dy="8">dnswl.</tspan><tspan x="2948.5" dy="8">org</tspan><tspan x="2948.5" dy="8">2 hops</tspan></text>
<text x="2957.5" y="1746"><tspan>None@</tspan><tspan x="2957.5" dy="8">Y.2.</tspan><tspan x="2957.5" dy="8">list.</tspan><tspan x="2957.5" dy="8">dnswl.</tspan><tspan x="2957.5" dy="8">org</tspan><tspan x="2957.5" dy="8">4 hops</tspan></text>
<text x="2967.5" y="1746"><tspan>100@</tspan><tspan x="2967.5" dy="8">2.2.Y.</tspan><tspan x="2967.5" dy="8">list.</tspan><tspan x="2967.5" dy="8">dnswl.</tspan><tspan x="2967.5" dy="8">org</tspan><tspan x="2967.5" dy="8">6 hops</tspan></text>
<text x="2976.5" y="1746"><tspan>20@</tspan><tspan x="2976.5" dy="8">0.3.2.Y.</tspan><tspan x="2976.5" dy="8">list.</tspan><tspan x="2976.5" dy="8">dnswl.</tspan><tspan x="2976.5" dy="8">org</tspan><tspan x="2976.5" dy="8">Both</tspan></text>
<text x="2985.5" y="1746"><tspan>6@</tspan><tspan x="2985.5" dy="8">2.1.Y.</tspan><tspan x="2985.5" dy="8">list.</tspan><tspan x="2985.5" dy="8">dnswl.</tspan><tspan x="2985.5" dy="8">org</tspan><tspan x="2985.5" dy="8">Both</tspan></text>
<text x="2995.5" y="1746"><tspan>20@</tspan><tspan x="2995.5" dy="8">1.2.1.</tspan><tspan x="2995.5" dy="8">list.</tspan><tspan x="2995.5" dy="8">dnswl.</tspan><tspan x="2995.5" dy="8">org</tspan><tspan x="2995.5" dy="8">5 hops</tspan></text>
<text x="3004.5" y="1746"><tspan>3@</tspan><tspan x="3004.5" dy="8">2.2.Y.</tspan><tspan x="3004.5" dy="8">list.</tspan><tspan x="3004.5" dy="8">dnswl.</tspan><tspan x="3004.5" dy="8">org</tspan><tspan x="3004.5" dy="8">Both</tspan></text>
<text x="3014.5" y="1746"><tspan>0@</tspan><tspan x="3014.5" dy="8">0.2.</tspan><tspan x="3014.5" dy="8">list.</tspan><tspan x="3014.5" dy="8">dnswl.</tspan><tspan x="3014.5" dy="8">org</tspan><tspan x="3014.5" dy="8">3 hops</tspan></text>
<text x="3023.5" y="1746"><tspan>10@</tspan><tspan x="3023.5" dy="8">1.0.3.</tspan><tspan x="3023.5" dy="8">list.</tspan><tspan x="3023.5" dy="8">dnswl.</tspan><tspan x="3023.5" dy="8">org</tspan><tspan x="3023.5" dy="8">5 hops</tspan></text>
<text x="3033.5" y="1746"><tspan>9@</tspan><tspan x="3033.5" dy="8">1.0.3.</tspan><tspan x="3033.5" dy="8">list.</tspan><tspan x="3033.5" dy="8">dnswl.</tspan><tspan x="3033.5" dy="8">org</tspan><tspan x="3033.5" dy="8">5 hops</tspan></text>
<text x="3042.5" y="1746"><tspan>140@</tspan><tspan x="3042.5" dy="8">2.2.Y.</tspan><tspan x="3042.5" dy="8">list.</tspan><tspan x="3042.5" dy="8">dnswl.</tspan><tspan x="3042.5" dy="8">org</tspan><tspan x="3042.5" dy="8">3 hops</tspan></text>
<text x="3052.5" y="1746"><tspan>4@</tspan><tspan x="3052.5" dy="8">0.Y.Y.</tspan><tspan x="3052.5" dy="8">list.</tspan><tspan x="3052.5" dy="8">dnswl.</tspan><tspan x="3052.5" dy="8">org</tspan><tspan x="3052.5" dy="8">2 hops</tspan></text>
<text x="3061.5" y="1746"><tspan>3@</tspan><tspan x="3061.5" dy="8">0.2.</tspan><tspan x="3061.5" dy="8">list.</tspan><tspan x="3061.5" dy="8">dnswl.</tspan><tspan x="3061.5" dy="8">org</tspan><tspan x="3061.5" dy="8">5 hops</tspan></text>
<text x="3071.5" y="1746"><tspan>140@</tspan><tspan x="3071.5" dy="8">2.1.Y.</tspan><tspan x="3071.5" dy="8">list.</tspan><tspan x="3071.5" dy="8">dnswl.</tspan><tspan x="3071.5" dy="8">org</tspan><tspan x="3071.5" dy="8">Both</tspan></text>
<text x="3080.5" y="1746"><tspan>3@</tspan><tspan x="3080.5" dy="8">Y.2.1.</tspan><tspan x="3080.5" dy="8">list.</tspan><tspan x="3080.5" dy="8">dnswl.</tspan><tspan x="3080.5" dy="8">org</tspan><tspan x="3080.5" dy="8">4 hops</tspan></text>
<text x="3089.5" y="1746"><tspan>15@</tspan><tspan x="3089.5" dy="8">0.2.</tspan><tspan x="3089.5" dy="8">list.</tspan><tspan x="3089.5" dy="8">dnswl.</tspan><tspan x="3089.5" dy="8">org</tspan><tspan x="3089.5" dy="8">Both</tspan></text>
<text x="3099.5" y="1746"><tspan>3@</tspan><tspan x="3099.5" dy="8">Y.0.</tspan><tspan x="3099.5" dy="8">list.</tspan><tspan x="3099.5" dy="8">dnswl.</tspan><tspan x="3099.5" dy="8">org</tspan><tspan x="3099.5" dy="8">3 hops</tspan></text>
<text x="3108.5" y="1746"><tspan>3@</tspan><tspan x="3108.5" dy="8">0.0.3.</tspan><tspan x="3108.5" dy="8">list.</tspan><tspan x="3108.5" dy="8">dnswl.</tspan><tspan x="3108.5" dy="8">org</tspan><tspan x="3108.5" dy="8">1 hop</tspan></text>
<text x="3118.5" y="1746"><tspan>9@</tspan><tspan x="3118.5" dy="8">1.2.1.</tspan><tspan x="3118.5" dy="8">list.</tspan><tspan x="3118.5" dy="8">dnswl.</tspan><tspan x="3118.5" dy="8">org</tspan><tspan x="3118.5" dy="8">5 hops</tspan></text>
<text x="3127.5" y="1746"><tspan>13@</tspan><tspan x="3127.5" dy="8">1.1.</tspan><tspan x="3127.5" dy="8">list.</tspan><tspan x="3127.5" dy="8">dnswl.</tspan><tspan x="3127.5" dy="8">org</tspan><tspan x="3127.5" dy="8">4 hops</tspan></text>
<text x="3137.5" y="1746"><tspan>140@</tspan><tspan x="3137.5" dy="8">Y.3.Y.</tspan><tspan x="3137.5" dy="8">list.</tspan><tspan x="3137.5" dy="8">dnswl.</tspan><tspan x="3137.5" dy="8">org</tspan><tspan x="3137.5" dy="8">3 hops</tspan></text>
<text x="3146.5" y="1746"><tspan>None@</tspan><tspan x="3146.5" dy="8">Y.2.1.</tspan><tspan x="3146.5" dy="8">list.</tspan><tspan x="3146.5" dy="8">dnswl.</tspan><tspan x="3146.5" dy="8">org</tspan><tspan x="3146.5" dy="8">3 hops</tspan></text>
<text x="3156.5" y="1746"><tspan>100@</tspan><tspan x="3156.5" dy="8">1.2.3.</tspan><tspan x="3156.5" dy="8">list.</tspan><tspan x="3156.5" dy="8">dnswl.</tspan><tspan x="3156.5" dy="8">org</tspan><tspan x="3156.5" dy="8">3 hops</tspan></text>
<text x="3165.5" y="1746"><tspan>11@</tspan><tspan x="3165.5" dy="8">Y.2.</tspan><tspan x="3165.5" dy="8">list.</tspan><tspan x="3165.5" dy="8">dnswl.</tspan><tspan x="3165.5" dy="8">org</tspan><tspan x="3165.5" dy="8">Both</tspan></text>
<text x="3175.5" y="1746"><tspan>6@</tspan><tspan x="3175.5" dy="8">0.0.3.</tspan><tspan x="3175.5" dy="8">list.</tspan><tspan x="3175.5" dy="8">dnswl.</tspan><tspan x="3175.5" dy="8">org</tspan><tspan x="3175.5" dy="8">1 hop</tspan></text>
</g>
</svg></body></html>
